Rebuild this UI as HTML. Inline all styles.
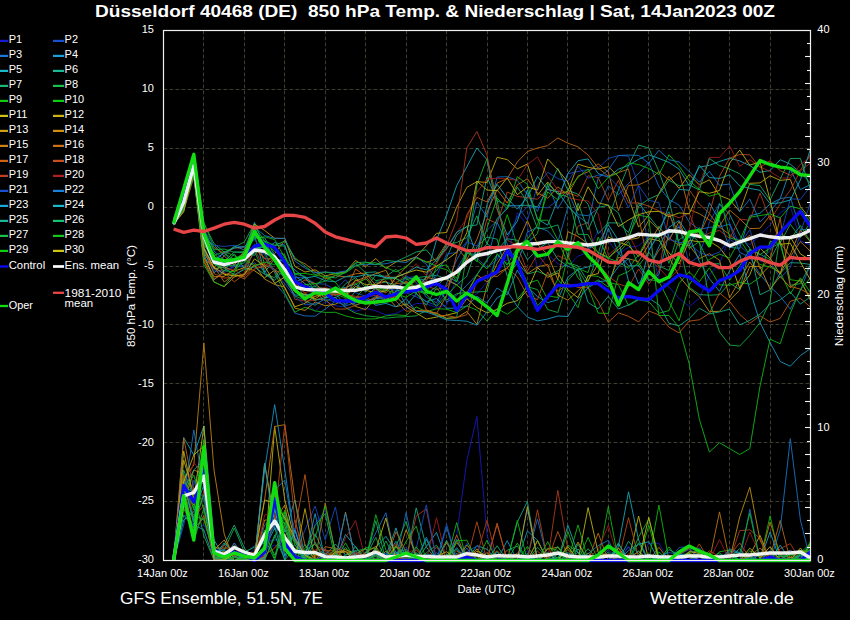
<!DOCTYPE html><html><head><meta charset="utf-8"><style>html,body{margin:0;padding:0;background:#000;width:850px;height:620px;overflow:hidden}svg{display:block}</style></head><body>
<svg width="850" height="620" viewBox="0 0 850 620"><rect width="850" height="620" fill="#000"/>
<g stroke="#3e3d2e" stroke-width="1" stroke-dasharray="3.8,2.2"><line x1="203.5" y1="30.5" x2="203.5" y2="560.5"/><line x1="244.5" y1="30.5" x2="244.5" y2="560.5"/><line x1="284.5" y1="30.5" x2="284.5" y2="560.5"/><line x1="325.5" y1="30.5" x2="325.5" y2="560.5"/><line x1="365.5" y1="30.5" x2="365.5" y2="560.5"/><line x1="406.5" y1="30.5" x2="406.5" y2="560.5"/><line x1="446.5" y1="30.5" x2="446.5" y2="560.5"/><line x1="487.5" y1="30.5" x2="487.5" y2="560.5"/><line x1="527.5" y1="30.5" x2="527.5" y2="560.5"/><line x1="567.5" y1="30.5" x2="567.5" y2="560.5"/><line x1="608.5" y1="30.5" x2="608.5" y2="560.5"/><line x1="648.5" y1="30.5" x2="648.5" y2="560.5"/><line x1="689.5" y1="30.5" x2="689.5" y2="560.5"/><line x1="729.5" y1="30.5" x2="729.5" y2="560.5"/><line x1="770.5" y1="30.5" x2="770.5" y2="560.5"/><line x1="163.5" y1="89.5" x2="810.5" y2="89.5"/><line x1="163.5" y1="148.5" x2="810.5" y2="148.5"/><line x1="163.5" y1="207.5" x2="810.5" y2="207.5"/><line x1="163.5" y1="266.5" x2="810.5" y2="266.5"/><line x1="163.5" y1="324.5" x2="810.5" y2="324.5"/><line x1="163.5" y1="383.5" x2="810.5" y2="383.5"/><line x1="163.5" y1="442.5" x2="810.5" y2="442.5"/><line x1="163.5" y1="501.5" x2="810.5" y2="501.5"/></g>
<defs><clipPath id="c"><rect x="163.5" y="27.5" width="648.0" height="536.0"/></clipPath></defs>
<g clip-path="url(#c)"><polyline points="173.6,218.7 183.7,191.4 193.8,153.1 203.9,248.0 214.0,271.0 224.2,272.6 234.3,267.1 244.4,256.6 254.5,249.8 264.6,254.1 274.7,258.8 284.8,262.4 294.9,288.6 305.0,301.5 315.1,311.2 325.2,301.6 335.4,305.7 345.5,307.0 355.6,311.4 365.7,308.3 375.8,310.7 385.9,315.1 396.0,313.5 406.1,308.5 416.2,303.5 426.3,303.8 436.5,307.4 446.6,305.3 456.7,277.6 466.8,299.7 476.9,294.0 487.0,282.1 497.1,256.2 507.2,261.1 517.3,212.7 527.4,225.4 537.5,268.2 547.7,254.0 557.8,263.8 567.9,266.8 578.0,256.1 588.1,252.5 598.2,230.0 608.3,241.1 618.4,253.6 628.5,247.5 638.6,245.9 648.8,236.1 658.9,279.9 669.0,287.0 679.1,298.4 689.2,306.5 699.3,298.5 709.4,275.0 719.5,263.2 729.6,237.6 739.7,239.6 749.8,244.4 760.0,235.8 770.1,224.7 780.2,213.0 790.3,205.8 800.4,241.0 810.5,245.0" fill="none" stroke="#1717bb" stroke-width="0.9" stroke-linejoin="round" /><polyline points="173.6,220.0 183.7,201.7 193.8,168.9 203.9,256.2 214.0,269.7 224.2,271.1 234.3,266.3 244.4,265.3 254.5,253.5 264.6,244.7 274.7,257.3 284.8,268.2 294.9,277.7 305.0,277.2 315.1,283.6 325.2,284.1 335.4,289.9 345.5,279.7 355.6,292.8 365.7,296.2 375.8,288.3 385.9,300.2 396.0,293.2 406.1,292.8 416.2,296.7 426.3,301.6 436.5,305.3 446.6,291.0 456.7,269.7 466.8,251.0 476.9,258.4 487.0,267.2 497.1,260.2 507.2,238.0 517.3,217.0 527.4,206.9 537.5,207.4 547.7,207.8 557.8,200.0 567.9,173.8 578.0,171.5 588.1,169.6 598.2,168.0 608.3,158.5 618.4,155.5 628.5,156.2 638.6,185.9 648.8,249.7 658.9,233.0 669.0,238.0 679.1,225.3 689.2,263.3 699.3,256.2 709.4,222.3 719.5,203.3 729.6,223.3 739.7,244.8 749.8,229.6 760.0,261.0 770.1,261.6 780.2,278.1 790.3,267.4 800.4,233.0 810.5,202.4" fill="none" stroke="#1748bb" stroke-width="0.9" stroke-linejoin="round" /><polyline points="173.6,221.6 183.7,205.3 193.8,159.7 203.9,237.4 214.0,262.5 224.2,252.0 234.3,266.0 244.4,267.2 254.5,262.8 264.6,271.2 274.7,282.7 284.8,294.7 294.9,313.2 305.0,315.9 315.1,316.2 325.2,309.1 335.4,301.2 345.5,305.9 355.6,302.6 365.7,302.4 375.8,296.3 385.9,299.9 396.0,291.8 406.1,275.7 416.2,282.4 426.3,297.2 436.5,302.8 446.6,283.9 456.7,259.8 466.8,242.7 476.9,202.0 487.0,217.1 497.1,177.0 507.2,176.7 517.3,180.4 527.4,194.5 537.5,211.5 547.7,184.6 557.8,208.7 567.9,191.6 578.0,214.7 588.1,215.7 598.2,208.6 608.3,185.8 618.4,194.9 628.5,183.5 638.6,173.6 648.8,162.3 658.9,186.6 669.0,199.6 679.1,205.1 689.2,222.0 699.3,229.5 709.4,227.3 719.5,227.0 729.6,224.0 739.7,252.4 749.8,257.2 760.0,274.4 770.1,286.6 780.2,296.3 790.3,309.2 800.4,290.4 810.5,264.2" fill="none" stroke="#176cc2" stroke-width="0.9" stroke-linejoin="round" /><polyline points="173.6,221.8 183.7,200.1 193.8,167.9 203.9,238.2 214.0,244.9 224.2,256.2 234.3,246.0 244.4,250.1 254.5,222.4 264.6,248.7 274.7,242.6 284.8,245.2 294.9,275.6 305.0,283.7 315.1,290.0 325.2,297.6 335.4,297.7 345.5,291.2 355.6,305.3 365.7,300.8 375.8,298.9 385.9,297.2 396.0,286.0 406.1,305.8 416.2,293.9 426.3,301.6 436.5,298.6 446.6,308.2 456.7,308.3 466.8,306.2 476.9,296.3 487.0,303.0 497.1,288.0 507.2,294.9 517.3,270.1 527.4,287.1 537.5,296.6 547.7,302.6 557.8,299.8 567.9,277.2 578.0,269.4 588.1,266.9 598.2,262.3 608.3,228.1 618.4,252.7 628.5,265.9 638.6,265.6 648.8,280.9 658.9,274.6 669.0,232.7 679.1,227.2 689.2,237.1 699.3,236.4 709.4,202.8 719.5,220.6 729.6,247.4 739.7,248.3 749.8,215.8 760.0,213.3 770.1,204.0 780.2,198.8 790.3,169.4 800.4,189.6 810.5,184.6" fill="none" stroke="#1790c2" stroke-width="0.9" stroke-linejoin="round" /><polyline points="173.6,222.5 183.7,202.7 193.8,175.5 203.9,254.0 214.0,279.9 224.2,270.8 234.3,258.6 244.4,254.4 254.5,235.1 264.6,272.5 274.7,258.6 284.8,272.7 294.9,282.6 305.0,277.3 315.1,290.9 325.2,292.0 335.4,289.6 345.5,287.4 355.6,283.8 365.7,292.0 375.8,282.1 385.9,282.2 396.0,285.2 406.1,288.7 416.2,293.4 426.3,276.2 436.5,240.0 446.6,215.0 456.7,185.6 466.8,166.8 476.9,148.0 487.0,159.7 497.1,209.0 507.2,235.0 517.3,221.3 527.4,190.0 537.5,218.9 547.7,225.2 557.8,199.4 567.9,173.4 578.0,160.7 588.1,158.9 598.2,173.6 608.3,177.2 618.4,169.2 628.5,165.3 638.6,159.3 648.8,154.8 658.9,158.4 669.0,162.4 679.1,169.2 689.2,185.7 699.3,167.1 709.4,165.4 719.5,161.4 729.6,158.3 739.7,160.9 749.8,165.6 760.0,172.3 770.1,170.5 780.2,159.7 790.3,164.2 800.4,172.5 810.5,183.2" fill="none" stroke="#17a5b4" stroke-width="0.9" stroke-linejoin="round" /><polyline points="173.6,224.4 183.7,210.5 193.8,168.9 203.9,250.9 214.0,273.0 224.2,261.6 234.3,251.8 244.4,253.0 254.5,237.1 264.6,237.8 274.7,255.0 284.8,268.4 294.9,277.2 305.0,301.0 315.1,305.3 325.2,298.3 335.4,293.8 345.5,304.4 355.6,290.8 365.7,272.5 375.8,271.9 385.9,278.3 396.0,278.6 406.1,283.5 416.2,279.4 426.3,279.3 436.5,270.8 446.6,257.7 456.7,235.3 466.8,226.1 476.9,225.0 487.0,176.8 497.1,200.7 507.2,205.5 517.3,205.7 527.4,205.2 537.5,206.9 547.7,189.0 557.8,168.4 567.9,190.4 578.0,194.2 588.1,204.2 598.2,233.7 608.3,222.8 618.4,223.0 628.5,232.5 638.6,202.8 648.8,216.1 658.9,228.9 669.0,211.7 679.1,244.0 689.2,245.5 699.3,227.5 709.4,240.9 719.5,203.8 729.6,214.3 739.7,235.1 749.8,248.3 760.0,294.8 770.1,289.8 780.2,273.4 790.3,262.7 800.4,263.0 810.5,264.5" fill="none" stroke="#17a585" stroke-width="0.9" stroke-linejoin="round" /><polyline points="173.6,224.1 183.7,205.9 193.8,167.9 203.9,241.7 214.0,252.9 224.2,265.3 234.3,253.8 244.4,268.4 254.5,251.5 264.6,273.8 274.7,277.7 284.8,262.9 294.9,287.6 305.0,287.7 315.1,286.7 325.2,288.5 335.4,295.5 345.5,283.8 355.6,277.6 365.7,287.6 375.8,275.1 385.9,276.4 396.0,269.3 406.1,279.4 416.2,277.8 426.3,276.4 436.5,275.3 446.6,278.9 456.7,284.8 466.8,276.3 476.9,246.8 487.0,237.1 497.1,239.1 507.2,276.2 517.3,262.9 527.4,274.1 537.5,271.3 547.7,275.5 557.8,271.1 567.9,262.8 578.0,265.9 588.1,281.5 598.2,253.9 608.3,219.3 618.4,190.0 628.5,165.6 638.6,145.1 648.8,148.0 658.9,171.5 669.0,199.7 679.1,243.8 689.2,287.2 699.3,294.6 709.4,295.2 719.5,294.7 729.6,283.2 739.7,289.4 749.8,249.2 760.0,254.3 770.1,259.6 780.2,240.6 790.3,285.3 800.4,283.6 810.5,264.5" fill="none" stroke="#17a564" stroke-width="0.9" stroke-linejoin="round" /><polyline points="173.6,222.3 183.7,199.5 193.8,153.3 203.9,223.5 214.0,243.5 224.2,252.1 234.3,247.2 244.4,241.9 254.5,223.6 264.6,265.2 274.7,269.3 284.8,277.2 294.9,296.0 305.0,300.1 315.1,291.5 325.2,301.1 335.4,297.2 345.5,307.8 355.6,313.1 365.7,315.7 375.8,316.8 385.9,318.2 396.0,317.1 406.1,316.7 416.2,315.8 426.3,310.7 436.5,314.5 446.6,318.7 456.7,317.2 466.8,253.1 476.9,185.0 487.0,158.5 497.1,200.0 507.2,254.0 517.3,299.2 527.4,286.7 537.5,289.6 547.7,309.5 557.8,312.5 567.9,280.5 578.0,269.4 588.1,286.5 598.2,279.9 608.3,287.1 618.4,253.4 628.5,241.5 638.6,265.8 648.8,252.1 658.9,266.0 669.0,270.5 679.1,239.9 689.2,232.2 699.3,242.7 709.4,263.8 719.5,263.7 729.6,280.3 739.7,265.8 749.8,249.6 760.0,254.5 770.1,248.2 780.2,243.1 790.3,224.2 800.4,237.9 810.5,222.2" fill="none" stroke="#17ac40" stroke-width="0.9" stroke-linejoin="round" /><polyline points="173.6,220.4 183.7,203.6 193.8,159.2 203.9,245.6 214.0,255.6 224.2,251.5 234.3,255.7 244.4,261.2 254.5,244.2 264.6,252.5 274.7,272.7 284.8,293.1 294.9,312.2 305.0,307.2 315.1,310.9 325.2,312.4 335.4,312.3 345.5,315.9 355.6,318.3 365.7,319.0 375.8,318.8 385.9,315.9 396.0,314.8 406.1,315.6 416.2,306.9 426.3,311.8 436.5,308.7 446.6,309.1 456.7,312.6 466.8,305.9 476.9,310.1 487.0,321.1 497.1,308.5 507.2,314.2 517.3,307.3 527.4,283.6 537.5,280.1 547.7,299.3 557.8,279.2 567.9,292.5 578.0,307.6 588.1,275.3 598.2,276.5 608.3,282.4 618.4,284.7 628.5,305.5 638.6,299.9 648.8,301.6 658.9,313.2 669.0,310.6 679.1,283.3 689.2,271.8 699.3,281.8 709.4,267.8 719.5,284.9 729.6,285.2 739.7,282.3 749.8,284.2 760.0,277.3 770.1,241.2 780.2,244.0 790.3,279.7 800.4,281.2 810.5,298.6" fill="none" stroke="#12b412" stroke-width="0.9" stroke-linejoin="round" /><polyline points="173.6,218.0 183.7,191.2 193.8,152.8 203.9,222.6 214.0,247.5 224.2,253.6 234.3,259.4 244.4,252.9 254.5,238.4 264.6,236.7 274.7,239.6 284.8,257.9 294.9,284.6 305.0,289.5 315.1,293.6 325.2,288.4 335.4,293.6 345.5,298.1 355.6,298.4 365.7,286.3 375.8,289.0 385.9,290.8 396.0,282.7 406.1,277.2 416.2,289.6 426.3,293.2 436.5,266.8 446.6,269.7 456.7,278.1 466.8,250.1 476.9,260.6 487.0,268.9 497.1,254.6 507.2,263.7 517.3,261.9 527.4,282.7 537.5,305.6 547.7,295.8 557.8,297.5 567.9,255.5 578.0,277.9 588.1,287.6 598.2,313.1 608.3,313.4 618.4,275.8 628.5,271.5 638.6,262.5 648.8,279.6 658.9,281.1 669.0,301.5 679.1,320.8 689.2,285.2 699.3,268.4 709.4,259.4 719.5,254.1 729.6,258.0 739.7,239.8 749.8,254.8 760.0,264.5 770.1,267.1 780.2,272.2 790.3,293.8 800.4,277.8 810.5,292.6" fill="none" stroke="#0eb70e" stroke-width="0.9" stroke-linejoin="round" /><polyline points="173.6,220.1 183.7,205.5 193.8,169.1 203.9,247.2 214.0,268.7 224.2,267.0 234.3,271.2 244.4,267.6 254.5,270.7 264.6,277.9 274.7,269.9 284.8,288.1 294.9,306.8 305.0,303.2 315.1,296.4 325.2,293.3 335.4,291.1 345.5,296.4 355.6,279.7 365.7,284.8 375.8,284.4 385.9,280.9 396.0,296.3 406.1,306.7 416.2,313.0 426.3,319.0 436.5,317.1 446.6,315.1 456.7,312.7 466.8,298.7 476.9,307.6 487.0,312.8 497.1,309.5 507.2,303.3 517.3,300.7 527.4,290.4 537.5,267.6 547.7,277.3 557.8,272.9 567.9,289.7 578.0,297.7 588.1,276.0 598.2,273.6 608.3,236.8 618.4,242.3 628.5,245.5 638.6,256.5 648.8,238.7 658.9,240.6 669.0,252.8 679.1,264.0 689.2,240.3 699.3,241.9 709.4,241.1 719.5,247.6 729.6,260.7 739.7,288.2 749.8,274.8 760.0,248.1 770.1,258.0 780.2,274.2 790.3,237.0 800.4,253.9 810.5,260.1" fill="none" stroke="#bbb012" stroke-width="0.9" stroke-linejoin="round" /><polyline points="173.6,225.0 183.7,207.8 193.8,173.9 203.9,257.4 214.0,276.8 224.2,276.3 234.3,269.6 244.4,252.9 254.5,224.1 264.6,230.4 274.7,238.3 284.8,238.4 294.9,266.5 305.0,272.0 315.1,269.9 325.2,275.8 335.4,273.7 345.5,271.8 355.6,260.5 365.7,266.7 375.8,258.5 385.9,268.6 396.0,261.9 406.1,260.4 416.2,256.8 426.3,245.9 436.5,233.3 446.6,232.5 456.7,207.1 466.8,187.4 476.9,181.7 487.0,182.5 497.1,157.3 507.2,159.6 517.3,168.9 527.4,164.0 537.5,195.4 547.7,182.0 557.8,194.1 567.9,191.4 578.0,164.2 588.1,167.3 598.2,169.1 608.3,166.7 618.4,176.5 628.5,197.3 638.6,227.1 648.8,215.1 658.9,193.5 669.0,176.3 679.1,188.4 689.2,174.5 699.3,184.8 709.4,179.8 719.5,195.4 729.6,199.5 739.7,211.5 749.8,183.3 760.0,182.9 770.1,175.8 780.2,180.4 790.3,179.4 800.4,206.6 810.5,219.1" fill="none" stroke="#bba212" stroke-width="0.9" stroke-linejoin="round" /><polyline points="173.6,220.9 183.7,206.3 193.8,174.0 203.9,261.5 214.0,282.0 224.2,286.8 234.3,276.9 244.4,273.7 254.5,264.7 264.6,279.1 274.7,284.5 284.8,287.1 294.9,308.2 305.0,310.4 315.1,302.0 325.2,305.7 335.4,304.2 345.5,299.3 355.6,306.4 365.7,309.7 375.8,297.6 385.9,295.7 396.0,306.7 406.1,304.0 416.2,311.0 426.3,311.2 436.5,313.1 446.6,318.2 456.7,317.9 466.8,311.5 476.9,324.3 487.0,285.4 497.1,263.7 507.2,246.8 517.3,243.4 527.4,220.7 537.5,244.4 547.7,254.4 557.8,279.7 567.9,231.6 578.0,236.5 588.1,243.7 598.2,252.4 608.3,257.4 618.4,249.6 628.5,239.7 638.6,238.0 648.8,220.1 658.9,230.0 669.0,257.4 679.1,276.1 689.2,288.3 699.3,296.6 709.4,311.7 719.5,311.3 729.6,300.2 739.7,290.2 749.8,266.5 760.0,266.4 770.1,289.3 780.2,276.3 790.3,287.7 800.4,279.6 810.5,300.4" fill="none" stroke="#bb9012" stroke-width="0.9" stroke-linejoin="round" /><polyline points="173.6,223.5 183.7,203.4 193.8,167.3 203.9,253.3 214.0,267.7 224.2,255.9 234.3,265.1 244.4,250.6 254.5,233.1 264.6,248.5 274.7,259.3 284.8,275.4 294.9,289.8 305.0,299.5 315.1,290.5 325.2,297.7 335.4,289.4 345.5,288.7 355.6,280.8 365.7,277.3 375.8,273.6 385.9,270.3 396.0,289.3 406.1,280.9 416.2,288.5 426.3,277.5 436.5,279.2 446.6,279.8 456.7,285.0 466.8,293.3 476.9,274.9 487.0,281.8 497.1,273.4 507.2,268.0 517.3,256.2 527.4,273.6 537.5,266.9 547.7,264.4 557.8,295.1 567.9,300.2 578.0,290.8 588.1,280.6 598.2,264.0 608.3,284.8 618.4,257.4 628.5,258.8 638.6,261.6 648.8,244.6 658.9,226.3 669.0,240.3 679.1,221.6 689.2,245.1 699.3,258.7 709.4,253.7 719.5,260.1 729.6,297.7 739.7,279.9 749.8,262.0 760.0,275.9 770.1,265.3 780.2,273.7 790.3,254.4 800.4,230.0 810.5,242.0" fill="none" stroke="#bb8112" stroke-width="0.9" stroke-linejoin="round" /><polyline points="173.6,223.1 183.7,210.7 193.8,177.1 203.9,259.5 214.0,266.6 224.2,281.9 234.3,274.9 244.4,276.8 254.5,265.1 264.6,263.9 274.7,253.6 284.8,240.2 294.9,259.1 305.0,263.8 315.1,271.6 325.2,278.8 335.4,275.6 345.5,276.8 355.6,273.8 365.7,273.1 375.8,285.4 385.9,277.0 396.0,277.5 406.1,267.1 416.2,256.8 426.3,262.3 436.5,258.8 446.6,243.0 456.7,246.9 466.8,259.8 476.9,239.3 487.0,212.1 497.1,189.7 507.2,203.0 517.3,184.8 527.4,178.8 537.5,192.8 547.7,198.3 557.8,186.8 567.9,194.9 578.0,176.1 588.1,171.8 598.2,163.8 608.3,172.1 618.4,210.6 628.5,185.4 638.6,184.9 648.8,180.2 658.9,171.6 669.0,180.0 679.1,172.3 689.2,209.7 699.3,213.6 709.4,220.0 719.5,226.1 729.6,210.0 739.7,218.8 749.8,228.6 760.0,228.2 770.1,215.4 780.2,242.5 790.3,256.7 800.4,241.6 810.5,251.4" fill="none" stroke="#bb7312" stroke-width="0.9" stroke-linejoin="round" /><polyline points="173.6,220.3 183.7,197.5 193.8,161.7 203.9,237.1 214.0,257.6 224.2,274.2 234.3,274.0 244.4,279.0 254.5,268.9 264.6,266.3 274.7,258.2 284.8,280.3 294.9,286.7 305.0,279.8 315.1,283.6 325.2,292.3 335.4,295.3 345.5,290.5 355.6,269.0 365.7,276.2 375.8,288.7 385.9,292.8 396.0,283.6 406.1,282.6 416.2,286.7 426.3,309.9 436.5,313.6 446.6,295.5 456.7,254.3 466.8,215.0 476.9,197.4 487.0,202.0 497.1,183.2 507.2,178.5 517.3,162.0 527.4,151.5 537.5,148.0 547.7,145.6 557.8,138.0 567.9,143.2 578.0,146.8 588.1,155.0 598.2,168.0 608.3,176.2 618.4,172.6 628.5,169.0 638.6,215.8 648.8,267.7 658.9,250.3 669.0,237.9 679.1,245.6 689.2,234.9 699.3,234.6 709.4,213.6 719.5,227.2 729.6,234.4 739.7,242.8 749.8,235.2 760.0,268.9 770.1,259.5 780.2,218.1 790.3,286.4 800.4,289.1 810.5,294.5" fill="none" stroke="#bb6412" stroke-width="0.9" stroke-linejoin="round" /><polyline points="173.6,223.1 183.7,206.0 193.8,171.0 203.9,260.1 214.0,279.3 224.2,272.9 234.3,281.9 244.4,274.2 254.5,248.9 264.6,258.6 274.7,259.1 284.8,272.6 294.9,285.3 305.0,293.1 315.1,299.5 325.2,299.4 335.4,309.0 345.5,309.1 355.6,305.3 365.7,301.4 375.8,297.6 385.9,286.8 396.0,301.1 406.1,311.2 416.2,310.7 426.3,310.0 436.5,315.6 446.6,315.6 456.7,317.4 466.8,314.8 476.9,279.8 487.0,275.1 497.1,276.7 507.2,268.1 517.3,276.8 527.4,295.9 537.5,299.6 547.7,272.0 557.8,291.3 567.9,283.8 578.0,287.4 588.1,287.2 598.2,301.4 608.3,322.3 618.4,312.8 628.5,316.3 638.6,321.9 648.8,311.0 658.9,314.9 669.0,327.2 679.1,332.9 689.2,321.1 699.3,319.8 709.4,313.5 719.5,292.9 729.6,301.4 739.7,314.4 749.8,323.3 760.0,315.8 770.1,322.0 780.2,318.4 790.3,301.3 800.4,298.3 810.5,307.2" fill="none" stroke="#bb5612" stroke-width="0.9" stroke-linejoin="round" /><polyline points="173.6,223.1 183.7,207.3 193.8,175.5 203.9,248.1 214.0,273.7 224.2,278.1 234.3,277.1 244.4,267.4 254.5,246.7 264.6,257.9 274.7,272.3 284.8,269.8 294.9,291.1 305.0,296.6 315.1,296.4 325.2,290.5 335.4,294.6 345.5,293.9 355.6,297.9 365.7,296.5 375.8,304.1 385.9,298.3 396.0,296.1 406.1,288.3 416.2,280.3 426.3,285.9 436.5,289.7 446.6,286.5 456.7,272.3 466.8,259.9 476.9,256.0 487.0,218.7 497.1,223.6 507.2,192.0 517.3,196.4 527.4,197.7 537.5,199.3 547.7,189.1 557.8,191.4 567.9,192.7 578.0,196.4 588.1,175.8 598.2,177.5 608.3,200.1 618.4,180.4 628.5,203.0 638.6,202.9 648.8,206.1 658.9,210.9 669.0,214.8 679.1,233.2 689.2,189.9 699.3,204.0 709.4,213.5 719.5,176.3 729.6,158.1 739.7,154.5 749.8,154.8 760.0,167.5 770.1,160.8 780.2,170.7 790.3,175.3 800.4,170.2 810.5,154.3" fill="none" stroke="#b4481c" stroke-width="0.9" stroke-linejoin="round" /><polyline points="173.6,219.4 183.7,191.3 193.8,155.5 203.9,236.7 214.0,247.5 224.2,253.5 234.3,248.0 244.4,247.6 254.5,249.0 264.6,268.8 274.7,259.4 284.8,271.0 294.9,299.3 305.0,301.0 315.1,300.5 325.2,295.6 335.4,294.5 345.5,294.3 355.6,296.4 365.7,297.2 375.8,295.2 385.9,298.1 396.0,296.8 406.1,287.6 416.2,285.5 426.3,280.7 436.5,263.5 446.6,245.8 456.7,220.0 466.8,148.0 476.9,131.5 487.0,155.0 497.1,209.0 507.2,240.0 517.3,245.5 527.4,271.2 537.5,254.3 547.7,266.9 557.8,255.7 567.9,260.2 578.0,226.2 588.1,222.5 598.2,264.2 608.3,276.0 618.4,283.8 628.5,287.2 638.6,269.0 648.8,284.0 658.9,271.1 669.0,213.9 679.1,217.8 689.2,213.1 699.3,238.2 709.4,233.0 719.5,230.4 729.6,238.4 739.7,219.1 749.8,220.3 760.0,193.2 770.1,220.1 780.2,204.3 790.3,190.1 800.4,170.9 810.5,162.9" fill="none" stroke="#ac391c" stroke-width="0.9" stroke-linejoin="round" /><polyline points="173.6,220.4 183.7,195.9 193.8,162.9 203.9,236.9 214.0,259.3 224.2,268.5 234.3,270.0 244.4,276.2 254.5,269.1 264.6,263.7 274.7,269.8 284.8,264.1 294.9,283.4 305.0,292.7 315.1,290.0 325.2,287.2 335.4,291.5 345.5,292.4 355.6,282.6 365.7,278.2 375.8,292.0 385.9,275.3 396.0,282.7 406.1,274.8 416.2,263.7 426.3,275.6 436.5,262.1 446.6,249.3 456.7,232.8 466.8,218.4 476.9,192.1 487.0,179.1 497.1,178.2 507.2,179.0 517.3,180.3 527.4,164.6 537.5,156.9 547.7,176.6 557.8,189.7 567.9,197.6 578.0,199.8 588.1,201.0 598.2,213.9 608.3,255.2 618.4,246.1 628.5,233.8 638.6,254.0 648.8,258.6 658.9,267.7 669.0,278.9 679.1,269.3 689.2,230.9 699.3,185.0 709.4,157.4 719.5,157.4 729.6,146.0 739.7,166.3 749.8,159.7 760.0,166.8 770.1,171.5 780.2,178.0 790.3,178.0 800.4,164.4 810.5,157.4" fill="none" stroke="#9e1c1c" stroke-width="0.9" stroke-linejoin="round" /><polyline points="173.6,223.4 183.7,199.2 193.8,163.4 203.9,229.6 214.0,245.4 224.2,246.4 234.3,245.3 244.4,247.4 254.5,239.3 264.6,255.4 274.7,272.3 284.8,283.8 294.9,296.8 305.0,304.9 315.1,303.7 325.2,299.3 335.4,301.9 345.5,304.7 355.6,297.8 365.7,300.1 375.8,302.5 385.9,288.1 396.0,290.5 406.1,277.9 416.2,276.5 426.3,283.2 436.5,276.2 446.6,254.2 456.7,252.4 466.8,241.9 476.9,245.9 487.0,230.2 497.1,220.9 507.2,206.7 517.3,205.3 527.4,220.3 537.5,185.2 547.7,172.4 557.8,178.6 567.9,181.3 578.0,166.1 588.1,178.2 598.2,175.0 608.3,176.3 618.4,187.0 628.5,207.9 638.6,185.4 648.8,200.3 658.9,202.7 669.0,239.4 679.1,242.3 689.2,243.2 699.3,252.3 709.4,255.9 719.5,252.1 729.6,239.4 739.7,245.6 749.8,255.0 760.0,259.6 770.1,250.7 780.2,236.6 790.3,198.8 800.4,199.3 810.5,186.4" fill="none" stroke="#1748bb" stroke-width="0.9" stroke-linejoin="round" /><polyline points="173.6,223.0 183.7,203.9 193.8,160.3 203.9,230.8 214.0,251.1 224.2,259.6 234.3,262.7 244.4,257.5 254.5,227.0 264.6,235.6 274.7,238.3 284.8,238.4 294.9,260.9 305.0,268.1 315.1,272.6 325.2,271.9 335.4,272.8 345.5,270.9 355.6,265.3 365.7,264.3 375.8,264.4 385.9,263.7 396.0,261.4 406.1,262.5 416.2,256.7 426.3,264.3 436.5,280.8 446.6,302.2 456.7,295.2 466.8,285.3 476.9,274.6 487.0,261.0 497.1,222.3 507.2,243.7 517.3,265.0 527.4,232.0 537.5,227.4 547.7,230.9 557.8,242.5 567.9,206.8 578.0,216.3 588.1,223.6 598.2,178.1 608.3,170.0 618.4,155.5 628.5,155.0 638.6,155.5 648.8,163.2 658.9,150.3 669.0,159.7 679.1,162.0 689.2,171.5 699.3,182.1 709.4,171.4 719.5,185.3 729.6,184.0 739.7,211.8 749.8,199.0 760.0,221.9 770.1,211.6 780.2,198.7 790.3,197.1 800.4,229.8 810.5,229.0" fill="none" stroke="#1773c2" stroke-width="0.9" stroke-linejoin="round" /><polyline points="173.6,224.6 183.7,208.7 193.8,168.6 203.9,249.9 214.0,263.3 224.2,263.8 234.3,259.8 244.4,260.1 254.5,249.6 264.6,245.6 274.7,255.3 284.8,279.9 294.9,295.1 305.0,295.2 315.1,292.8 325.2,292.4 335.4,299.4 345.5,301.5 355.6,300.8 365.7,298.6 375.8,305.3 385.9,303.4 396.0,306.9 406.1,298.6 416.2,311.4 426.3,312.1 436.5,315.6 446.6,319.9 456.7,320.5 466.8,321.2 476.9,325.1 487.0,311.8 497.1,298.0 507.2,291.5 517.3,306.4 527.4,317.1 537.5,320.9 547.7,319.0 557.8,316.0 567.9,316.5 578.0,299.4 588.1,287.7 598.2,281.7 608.3,280.6 618.4,266.7 628.5,258.5 638.6,284.0 648.8,268.9 658.9,246.8 669.0,227.3 679.1,220.5 689.2,236.1 699.3,261.4 709.4,278.7 719.5,291.3 729.6,270.8 739.7,254.3 749.8,289.6 760.0,322.6 770.1,342.6 780.2,361.5 790.3,366.2 800.4,355.6 810.5,348.5" fill="none" stroke="#1797c2" stroke-width="0.9" stroke-linejoin="round" /><polyline points="173.6,219.6 183.7,204.6 193.8,159.4 203.9,236.3 214.0,260.6 224.2,252.6 234.3,248.0 244.4,246.5 254.5,235.8 264.6,241.4 274.7,258.7 284.8,261.4 294.9,269.9 305.0,278.1 315.1,276.3 325.2,280.7 335.4,281.8 345.5,276.7 355.6,276.9 365.7,274.7 375.8,275.4 385.9,277.8 396.0,277.2 406.1,273.1 416.2,267.1 426.3,269.9 436.5,259.7 446.6,248.4 456.7,232.2 466.8,226.7 476.9,256.5 487.0,204.6 497.1,184.4 507.2,198.0 517.3,209.1 527.4,197.5 537.5,176.4 547.7,189.6 557.8,191.8 567.9,206.0 578.0,216.8 588.1,248.3 598.2,244.4 608.3,224.6 618.4,240.4 628.5,280.9 638.6,290.6 648.8,250.5 658.9,234.2 669.0,205.1 679.1,189.4 689.2,190.2 699.3,165.2 709.4,177.5 719.5,178.5 729.6,174.8 739.7,186.0 749.8,188.4 760.0,190.3 770.1,203.7 780.2,202.8 790.3,200.0 800.4,180.0 810.5,149.0" fill="none" stroke="#17a5b4" stroke-width="0.9" stroke-linejoin="round" /><polyline points="173.6,219.3 183.7,206.4 193.8,163.7 203.9,236.9 214.0,264.3 224.2,268.1 234.3,274.7 244.4,269.5 254.5,266.9 264.6,274.3 274.7,280.3 284.8,267.5 294.9,291.8 305.0,294.9 315.1,300.4 325.2,297.6 335.4,289.1 345.5,294.9 355.6,299.5 365.7,296.8 375.8,287.7 385.9,298.2 396.0,291.2 406.1,288.5 416.2,285.1 426.3,294.4 436.5,286.5 446.6,276.3 456.7,281.6 466.8,253.5 476.9,254.5 487.0,243.9 497.1,250.1 507.2,238.8 517.3,240.2 527.4,259.8 537.5,249.2 547.7,242.6 557.8,259.3 567.9,266.4 578.0,270.0 588.1,302.5 598.2,308.9 608.3,296.3 618.4,309.0 628.5,304.9 638.6,298.9 648.8,298.2 658.9,304.7 669.0,323.3 679.1,325.8 689.2,318.6 699.3,308.2 709.4,313.9 719.5,311.9 729.6,309.1 739.7,324.9 749.8,320.3 760.0,314.2 770.1,304.2 780.2,299.9 790.3,292.0 800.4,304.1 810.5,296.9" fill="none" stroke="#17a585" stroke-width="0.9" stroke-linejoin="round" /><polyline points="173.6,222.9 183.7,204.6 193.8,176.0 203.9,242.7 214.0,263.8 224.2,266.0 234.3,265.2 244.4,262.9 254.5,247.6 264.6,247.3 274.7,245.2 284.8,246.2 294.9,274.1 305.0,276.4 315.1,286.4 325.2,276.4 335.4,277.9 345.5,272.1 355.6,262.8 365.7,262.0 375.8,264.8 385.9,260.4 396.0,261.5 406.1,257.0 416.2,252.0 426.3,249.8 436.5,261.9 446.6,244.4 456.7,242.5 466.8,237.6 476.9,215.8 487.0,244.0 497.1,218.4 507.2,208.8 517.3,187.0 527.4,202.0 537.5,228.6 547.7,228.0 557.8,224.9 567.9,257.0 578.0,203.2 588.1,229.9 598.2,207.5 608.3,205.2 618.4,212.8 628.5,239.6 638.6,206.2 648.8,199.1 658.9,194.5 669.0,180.3 679.1,185.7 689.2,184.8 699.3,190.0 709.4,158.5 719.5,165.6 729.6,169.0 739.7,173.8 749.8,184.4 760.0,185.6 770.1,200.0 780.2,179.1 790.3,158.5 800.4,158.4 810.5,189.5" fill="none" stroke="#17ac64" stroke-width="0.9" stroke-linejoin="round" /><polyline points="173.6,220.1 183.7,193.6 193.8,154.4 203.9,230.0 214.0,249.8 224.2,249.0 234.3,252.3 244.4,251.5 254.5,255.5 264.6,241.1 274.7,245.3 284.8,241.1 294.9,257.8 305.0,266.0 315.1,274.5 325.2,272.2 335.4,273.7 345.5,272.5 355.6,263.3 365.7,272.9 375.8,280.6 385.9,278.9 396.0,278.5 406.1,284.4 416.2,293.1 426.3,305.3 436.5,287.8 446.6,300.1 456.7,293.7 466.8,292.3 476.9,292.0 487.0,291.3 497.1,253.6 507.2,265.2 517.3,247.5 527.4,242.9 537.5,233.5 547.7,183.2 557.8,194.2 567.9,196.7 578.0,234.2 588.1,234.7 598.2,253.2 608.3,258.3 618.4,261.8 628.5,268.3 638.6,254.8 648.8,236.2 658.9,237.8 669.0,263.4 679.1,229.7 689.2,248.4 699.3,241.7 709.4,301.4 719.5,332.0 729.6,345.0 739.7,346.1 749.8,335.5 760.0,322.6 770.1,301.4 780.2,234.1 790.3,239.0 800.4,225.5 810.5,241.8" fill="none" stroke="#17ac40" stroke-width="0.9" stroke-linejoin="round" /><polyline points="173.6,223.3 183.7,209.7 193.8,174.0 203.9,264.7 214.0,282.1 224.2,286.3 234.3,272.6 244.4,250.4 254.5,226.0 264.6,241.0 274.7,251.5 284.8,254.7 294.9,288.7 305.0,284.7 315.1,283.7 325.2,281.2 335.4,275.1 345.5,272.8 355.6,266.0 365.7,262.7 375.8,262.8 385.9,267.5 396.0,271.8 406.1,267.0 416.2,258.0 426.3,261.8 436.5,266.1 446.6,265.0 456.7,281.9 466.8,251.4 476.9,261.8 487.0,227.9 497.1,198.0 507.2,208.9 517.3,176.6 527.4,184.4 537.5,220.4 547.7,220.2 557.8,240.1 567.9,263.4 578.0,268.4 588.1,272.6 598.2,237.1 608.3,259.2 618.4,246.4 628.5,236.4 638.6,215.3 648.8,216.9 658.9,315.5 669.0,315.5 679.1,327.3 689.2,363.8 699.3,419.2 709.4,452.1 719.5,442.7 729.6,448.6 739.7,454.5 749.8,448.6 760.0,386.2 770.1,339.1 780.2,343.8 790.3,313.2 800.4,289.6 810.5,277.8" fill="none" stroke="#12b41c" stroke-width="0.9" stroke-linejoin="round" /><polyline points="173.6,225.4 183.7,206.7 193.8,160.2 203.9,242.1 214.0,263.4 224.2,270.7 234.3,271.8 244.4,259.4 254.5,265.9 264.6,262.1 274.7,264.7 284.8,256.5 294.9,273.6 305.0,273.4 315.1,275.2 325.2,276.6 335.4,282.3 345.5,294.5 355.6,284.3 365.7,278.8 375.8,287.5 385.9,289.6 396.0,293.8 406.1,297.3 416.2,290.7 426.3,294.1 436.5,306.4 446.6,295.6 456.7,284.7 466.8,294.4 476.9,274.7 487.0,259.5 497.1,248.1 507.2,214.6 517.3,245.7 527.4,239.2 537.5,224.9 547.7,191.9 557.8,199.9 567.9,189.9 578.0,177.4 588.1,168.9 598.2,188.9 608.3,177.3 618.4,172.7 628.5,162.8 638.6,164.6 648.8,168.5 658.9,174.5 669.0,154.8 679.1,166.0 689.2,180.6 699.3,189.4 709.4,196.2 719.5,193.3 729.6,237.9 739.7,240.6 749.8,217.3 760.0,215.5 770.1,214.0 780.2,217.9 790.3,206.2 800.4,208.8 810.5,222.3" fill="none" stroke="#0eb70e" stroke-width="0.9" stroke-linejoin="round" /><polyline points="173.6,224.4 183.7,211.9 193.8,168.6 203.9,248.8 214.0,267.2 224.2,274.3 234.3,275.9 244.4,274.9 254.5,258.9 264.6,266.0 274.7,283.4 284.8,277.0 294.9,291.5 305.0,294.4 315.1,298.9 325.2,292.0 335.4,292.0 345.5,296.0 355.6,286.5 365.7,290.3 375.8,292.8 385.9,291.0 396.0,277.4 406.1,273.1 416.2,270.0 426.3,272.2 436.5,266.2 446.6,259.8 456.7,252.2 466.8,232.8 476.9,181.0 487.0,190.1 497.1,190.6 507.2,177.8 517.3,194.7 527.4,186.9 537.5,190.1 547.7,159.0 557.8,169.7 567.9,182.0 578.0,210.7 588.1,186.8 598.2,202.9 608.3,205.1 618.4,226.6 628.5,219.9 638.6,214.6 648.8,211.8 658.9,211.4 669.0,216.7 679.1,212.9 689.2,213.8 699.3,191.7 709.4,193.3 719.5,190.5 729.6,163.1 739.7,150.1 749.8,165.2 760.0,161.9 770.1,200.0 780.2,244.4 790.3,243.2 800.4,262.1 810.5,280.1" fill="none" stroke="#bbb012" stroke-width="0.9" stroke-linejoin="round" /><polyline points="173.6,560.5 183.7,500.0 193.8,530.0 203.9,525.0 214.0,545.0 224.2,558.0 234.3,560.5 244.4,557.8 254.5,549.1 264.6,550.0 274.7,545.0 284.8,550.0 294.9,535.0 305.0,560.5 315.1,523.5 325.2,510.7 335.4,550.7 345.5,560.5 355.6,560.5 365.7,552.2 375.8,560.5 385.9,552.7 396.0,552.4 406.1,547.3 416.2,560.5 426.3,560.5 436.5,560.5 446.6,560.5 456.7,535.6 466.8,461.0 476.9,416.5 487.0,535.6 497.1,560.5 507.2,560.5 517.3,560.5 527.4,550.8 537.5,560.5 547.7,560.5 557.8,560.5 567.9,560.5 578.0,560.5 588.1,560.5 598.2,560.5 608.3,560.5 618.4,553.9 628.5,546.8 638.6,560.5 648.8,543.3 658.9,543.3 669.0,560.5 679.1,553.7 689.2,560.5 699.3,560.5 709.4,560.5 719.5,560.5 729.6,552.0 739.7,560.5 749.8,560.5 760.0,553.9 770.1,560.5 780.2,560.5 790.3,560.5 800.4,560.5 810.5,555.5" fill="none" stroke="#1717bb" stroke-width="0.9" stroke-linejoin="round" /><polyline points="173.6,560.5 183.7,495.0 193.8,485.0 203.9,455.0 214.0,547.0 224.2,560.0 234.3,556.1 244.4,553.3 254.5,545.9 264.6,542.0 274.7,540.0 284.8,540.0 294.9,555.0 305.0,530.0 315.1,506.0 325.2,540.0 335.4,506.9 345.5,560.5 355.6,560.5 365.7,556.3 375.8,560.5 385.9,557.1 396.0,560.5 406.1,560.5 416.2,560.5 426.3,560.5 436.5,560.5 446.6,560.5 456.7,560.5 466.8,543.4 476.9,560.5 487.0,560.5 497.1,560.5 507.2,560.5 517.3,558.7 527.4,560.5 537.5,560.5 547.7,560.5 557.8,560.5 567.9,560.5 578.0,560.5 588.1,560.5 598.2,560.5 608.3,549.6 618.4,560.5 628.5,546.7 638.6,560.5 648.8,560.5 658.9,556.1 669.0,552.6 679.1,554.4 689.2,549.6 699.3,556.8 709.4,560.5 719.5,560.5 729.6,552.1 739.7,560.5 749.8,555.9 760.0,560.5 770.1,550.5 780.2,560.5 790.3,560.5 800.4,554.8 810.5,560.5" fill="none" stroke="#1748bb" stroke-width="0.9" stroke-linejoin="round" /><polyline points="173.6,560.5 183.7,505.0 193.8,527.0 203.9,470.0 214.0,554.0 224.2,549.0 234.3,557.4 244.4,559.0 254.5,560.5 264.6,525.0 274.7,515.0 284.8,548.0 294.9,545.0 305.0,553.6 315.1,560.5 325.2,560.5 335.4,555.6 345.5,560.5 355.6,560.5 365.7,553.0 375.8,532.9 385.9,512.7 396.0,560.5 406.1,512.6 416.2,560.5 426.3,560.5 436.5,552.9 446.6,560.5 456.7,560.5 466.8,560.5 476.9,560.5 487.0,560.5 497.1,560.5 507.2,560.5 517.3,560.5 527.4,556.5 537.5,518.9 547.7,560.5 557.8,560.5 567.9,560.5 578.0,552.2 588.1,560.5 598.2,560.5 608.3,560.5 618.4,560.5 628.5,560.5 638.6,560.5 648.8,560.5 658.9,560.5 669.0,557.0 679.1,560.5 689.2,560.5 699.3,547.8 709.4,560.5 719.5,560.5 729.6,560.5 739.7,560.5 749.8,557.6 760.0,560.5 770.1,560.5 780.2,560.5 790.3,560.5 800.4,558.1 810.5,556.7" fill="none" stroke="#176cc2" stroke-width="0.9" stroke-linejoin="round" /><polyline points="173.6,560.5 183.7,480.0 193.8,525.0 203.9,530.0 214.0,560.0 224.2,556.0 234.3,560.5 244.4,560.5 254.5,560.5 264.6,470.0 274.7,404.6 284.8,470.0 294.9,540.0 305.0,555.7 315.1,560.5 325.2,560.5 335.4,560.5 345.5,555.9 355.6,560.5 365.7,552.0 375.8,556.9 385.9,556.7 396.0,541.2 406.1,560.5 416.2,560.5 426.3,554.2 436.5,554.9 446.6,560.5 456.7,547.6 466.8,560.5 476.9,560.5 487.0,556.3 497.1,560.5 507.2,540.6 517.3,560.5 527.4,531.0 537.5,540.3 547.7,560.5 557.8,554.4 567.9,560.5 578.0,560.5 588.1,556.0 598.2,560.5 608.3,560.5 618.4,543.7 628.5,560.5 638.6,560.5 648.8,560.5 658.9,560.5 669.0,560.5 679.1,560.5 689.2,560.5 699.3,560.5 709.4,560.5 719.5,560.5 729.6,549.0 739.7,552.5 749.8,560.5 760.0,560.5 770.1,560.5 780.2,558.8 790.3,560.5 800.4,560.5 810.5,560.5" fill="none" stroke="#1790c2" stroke-width="0.9" stroke-linejoin="round" /><polyline points="173.6,560.5 183.7,437.5 193.8,455.0 203.9,425.8 214.0,540.0 224.2,557.0 234.3,546.1 244.4,555.4 254.5,560.5 264.6,554.0 274.7,500.0 284.8,532.0 294.9,500.0 305.0,560.5 315.1,560.5 325.2,549.4 335.4,560.5 345.5,534.4 355.6,547.2 365.7,559.4 375.8,560.5 385.9,556.0 396.0,527.9 406.1,560.5 416.2,560.5 426.3,546.6 436.5,532.3 446.6,560.5 456.7,553.4 466.8,560.5 476.9,545.6 487.0,549.3 497.1,560.5 507.2,560.5 517.3,560.5 527.4,553.8 537.5,560.5 547.7,558.9 557.8,560.5 567.9,560.5 578.0,555.7 588.1,557.2 598.2,560.5 608.3,560.5 618.4,560.5 628.5,560.5 638.6,560.5 648.8,560.5 658.9,560.5 669.0,560.5 679.1,554.5 689.2,554.0 699.3,560.5 709.4,560.5 719.5,560.5 729.6,550.9 739.7,553.2 749.8,560.5 760.0,560.5 770.1,532.0 780.2,560.5 790.3,550.7 800.4,554.3 810.5,546.4" fill="none" stroke="#17a5b4" stroke-width="0.9" stroke-linejoin="round" /><polyline points="173.6,560.5 183.7,515.0 193.8,528.0 203.9,518.0 214.0,557.0 224.2,545.0 234.3,525.0 244.4,548.0 254.5,560.5 264.6,549.0 274.7,528.0 284.8,560.0 294.9,530.0 305.0,560.5 315.1,533.7 325.2,555.2 335.4,544.0 345.5,554.8 355.6,550.4 365.7,560.5 375.8,560.5 385.9,560.5 396.0,558.8 406.1,560.5 416.2,507.8 426.3,546.9 436.5,560.5 446.6,560.5 456.7,560.5 466.8,560.5 476.9,553.8 487.0,560.5 497.1,560.5 507.2,560.5 517.3,522.3 527.4,501.5 537.5,560.5 547.7,560.5 557.8,560.5 567.9,560.5 578.0,549.0 588.1,560.5 598.2,560.5 608.3,552.0 618.4,560.5 628.5,560.5 638.6,550.9 648.8,560.5 658.9,560.5 669.0,560.5 679.1,560.5 689.2,560.5 699.3,560.5 709.4,560.5 719.5,557.6 729.6,553.7 739.7,560.5 749.8,560.5 760.0,554.9 770.1,560.5 780.2,560.5 790.3,560.5 800.4,560.5 810.5,560.5" fill="none" stroke="#17a585" stroke-width="0.9" stroke-linejoin="round" /><polyline points="173.6,560.5 183.7,470.0 193.8,498.0 203.9,468.0 214.0,549.0 224.2,554.0 234.3,545.9 244.4,551.8 254.5,556.9 264.6,535.0 274.7,555.0 284.8,535.0 294.9,560.0 305.0,544.5 315.1,560.5 325.2,553.5 335.4,560.5 345.5,560.5 355.6,546.3 365.7,560.5 375.8,560.5 385.9,541.0 396.0,560.5 406.1,560.5 416.2,560.5 426.3,560.5 436.5,560.5 446.6,560.5 456.7,560.5 466.8,560.5 476.9,560.5 487.0,560.5 497.1,560.5 507.2,550.2 517.3,546.2 527.4,560.5 537.5,547.3 547.7,557.3 557.8,560.5 567.9,560.5 578.0,556.4 588.1,560.5 598.2,560.5 608.3,560.5 618.4,560.5 628.5,560.5 638.6,560.5 648.8,560.5 658.9,555.8 669.0,560.5 679.1,558.5 689.2,551.9 699.3,551.1 709.4,560.5 719.5,552.8 729.6,560.5 739.7,560.5 749.8,560.5 760.0,560.5 770.1,560.5 780.2,560.5 790.3,560.5 800.4,558.2 810.5,549.2" fill="none" stroke="#17a564" stroke-width="0.9" stroke-linejoin="round" /><polyline points="173.6,560.5 183.7,487.0 193.8,492.0 203.9,536.0 214.0,560.0 224.2,550.0 234.3,528.0 244.4,552.0 254.5,547.2 264.6,543.0 274.7,525.0 284.8,527.0 294.9,550.0 305.0,550.3 315.1,544.2 325.2,560.5 335.4,560.5 345.5,547.2 355.6,560.5 365.7,556.7 375.8,537.4 385.9,560.5 396.0,546.2 406.1,521.3 416.2,560.5 426.3,552.8 436.5,545.2 446.6,560.5 456.7,554.1 466.8,560.5 476.9,560.5 487.0,560.5 497.1,560.5 507.2,557.7 517.3,560.5 527.4,560.5 537.5,560.5 547.7,560.5 557.8,560.5 567.9,545.0 578.0,552.6 588.1,560.5 598.2,560.5 608.3,560.5 618.4,560.5 628.5,560.5 638.6,560.5 648.8,560.5 658.9,557.0 669.0,560.5 679.1,560.5 689.2,560.5 699.3,560.5 709.4,556.0 719.5,560.5 729.6,560.5 739.7,560.5 749.8,551.0 760.0,554.9 770.1,560.5 780.2,560.5 790.3,560.5 800.4,552.7 810.5,543.6" fill="none" stroke="#17ac40" stroke-width="0.9" stroke-linejoin="round" /><polyline points="173.6,560.5 183.7,478.0 193.8,510.0 203.9,441.0 214.0,546.0 224.2,552.0 234.3,553.0 244.4,558.4 254.5,560.5 264.6,547.0 274.7,493.0 284.8,520.0 294.9,542.0 305.0,558.7 315.1,553.8 325.2,560.5 335.4,560.5 345.5,542.9 355.6,560.5 365.7,560.5 375.8,560.5 385.9,560.5 396.0,560.5 406.1,541.5 416.2,526.1 426.3,560.5 436.5,560.5 446.6,560.5 456.7,560.5 466.8,560.5 476.9,560.5 487.0,560.5 497.1,560.5 507.2,556.0 517.3,560.5 527.4,546.5 537.5,560.5 547.7,548.0 557.8,550.3 567.9,560.5 578.0,524.9 588.1,560.5 598.2,560.5 608.3,506.5 618.4,560.5 628.5,560.5 638.6,560.5 648.8,525.3 658.9,560.5 669.0,560.5 679.1,560.5 689.2,552.1 699.3,560.5 709.4,560.5 719.5,551.8 729.6,550.0 739.7,560.5 749.8,557.0 760.0,560.5 770.1,554.4 780.2,560.5 790.3,557.7 800.4,560.5 810.5,541.2" fill="none" stroke="#12b412" stroke-width="0.9" stroke-linejoin="round" /><polyline points="173.6,560.5 183.7,474.0 193.8,508.0 203.9,440.0 214.0,553.0 224.2,560.0 234.3,560.5 244.4,557.7 254.5,557.4 264.6,560.0 274.7,537.0 284.8,510.0 294.9,545.0 305.0,560.5 315.1,560.5 325.2,560.5 335.4,547.7 345.5,560.5 355.6,560.5 365.7,547.6 375.8,548.6 385.9,560.5 396.0,556.3 406.1,560.5 416.2,556.4 426.3,560.5 436.5,560.5 446.6,557.6 456.7,560.5 466.8,557.8 476.9,560.5 487.0,560.5 497.1,560.5 507.2,560.5 517.3,520.5 527.4,560.5 537.5,540.3 547.7,560.5 557.8,560.5 567.9,549.2 578.0,560.5 588.1,537.3 598.2,560.5 608.3,560.5 618.4,555.8 628.5,560.5 638.6,542.8 648.8,560.5 658.9,552.0 669.0,560.5 679.1,560.5 689.2,560.5 699.3,560.5 709.4,552.9 719.5,560.5 729.6,555.3 739.7,560.5 749.8,560.5 760.0,560.5 770.1,515.8 780.2,560.5 790.3,560.5 800.4,559.0 810.5,560.5" fill="none" stroke="#0eb70e" stroke-width="0.9" stroke-linejoin="round" /><polyline points="173.6,560.5 183.7,451.0 193.8,500.0 203.9,426.0 214.0,559.0 224.2,553.0 234.3,560.5 244.4,559.0 254.5,560.5 264.6,557.0 274.7,426.5 284.8,500.0 294.9,540.0 305.0,560.5 315.1,560.5 325.2,560.5 335.4,553.2 345.5,549.5 355.6,554.0 365.7,548.4 375.8,560.5 385.9,560.5 396.0,560.5 406.1,552.5 416.2,560.5 426.3,560.5 436.5,560.5 446.6,560.5 456.7,560.5 466.8,560.5 476.9,560.5 487.0,560.5 497.1,560.5 507.2,560.5 517.3,560.5 527.4,560.5 537.5,560.5 547.7,553.5 557.8,560.5 567.9,560.5 578.0,560.5 588.1,553.2 598.2,560.5 608.3,560.5 618.4,547.8 628.5,560.5 638.6,516.0 648.8,560.5 658.9,560.5 669.0,560.5 679.1,560.5 689.2,553.3 699.3,560.5 709.4,560.5 719.5,560.5 729.6,560.5 739.7,560.5 749.8,560.5 760.0,560.5 770.1,560.5 780.2,560.5 790.3,560.5 800.4,560.5 810.5,560.5" fill="none" stroke="#bbb012" stroke-width="0.9" stroke-linejoin="round" /><polyline points="173.6,560.5 183.7,460.0 193.8,495.0 203.9,462.0 214.0,558.0 224.2,560.0 234.3,551.5 244.4,560.5 254.5,560.5 264.6,463.5 274.7,520.0 284.8,545.0 294.9,560.0 305.0,508.6 315.1,560.5 325.2,560.5 335.4,560.5 345.5,560.5 355.6,560.5 365.7,560.5 375.8,560.5 385.9,551.2 396.0,560.5 406.1,560.5 416.2,560.5 426.3,560.5 436.5,560.5 446.6,554.8 456.7,560.5 466.8,560.5 476.9,548.9 487.0,560.5 497.1,560.5 507.2,560.5 517.3,556.2 527.4,555.7 537.5,560.5 547.7,549.2 557.8,547.3 567.9,559.1 578.0,560.5 588.1,560.5 598.2,560.5 608.3,556.3 618.4,551.2 628.5,560.5 638.6,560.5 648.8,560.5 658.9,560.5 669.0,560.5 679.1,560.5 689.2,560.5 699.3,560.5 709.4,553.2 719.5,560.5 729.6,560.5 739.7,560.5 749.8,555.4 760.0,535.4 770.1,560.5 780.2,556.0 790.3,557.3 800.4,560.5 810.5,560.5" fill="none" stroke="#bba212" stroke-width="0.9" stroke-linejoin="round" /><polyline points="173.6,560.5 183.7,503.0 193.8,470.0 203.9,474.0 214.0,550.0 224.2,540.0 234.3,555.7 244.4,560.5 254.5,555.3 264.6,537.0 274.7,482.0 284.8,542.0 294.9,560.0 305.0,560.5 315.1,560.5 325.2,558.3 335.4,560.5 345.5,512.2 355.6,560.5 365.7,552.5 375.8,546.4 385.9,560.5 396.0,545.8 406.1,556.5 416.2,555.7 426.3,560.5 436.5,560.5 446.6,542.4 456.7,560.5 466.8,545.2 476.9,555.6 487.0,560.5 497.1,555.7 507.2,560.5 517.3,556.2 527.4,560.5 537.5,560.5 547.7,560.5 557.8,560.5 567.9,560.5 578.0,542.0 588.1,560.5 598.2,560.5 608.3,560.5 618.4,548.4 628.5,560.5 638.6,560.5 648.8,560.5 658.9,560.5 669.0,560.5 679.1,560.5 689.2,555.8 699.3,560.5 709.4,560.5 719.5,560.5 729.6,560.5 739.7,517.0 749.8,487.2 760.0,540.0 770.1,560.5 780.2,560.5 790.3,560.5 800.4,560.5 810.5,543.4" fill="none" stroke="#bb9012" stroke-width="0.9" stroke-linejoin="round" /><polyline points="173.6,560.5 183.7,479.0 193.8,465.0 203.9,343.0 214.0,470.0 224.2,534.0 234.3,560.5 244.4,558.0 254.5,560.5 264.6,520.0 274.7,520.0 284.8,505.0 294.9,560.0 305.0,560.5 315.1,555.4 325.2,553.9 335.4,554.5 345.5,551.2 355.6,557.9 365.7,560.5 375.8,560.5 385.9,560.5 396.0,560.5 406.1,529.7 416.2,554.9 426.3,560.5 436.5,560.5 446.6,560.5 456.7,542.5 466.8,555.8 476.9,554.9 487.0,560.5 497.1,550.8 507.2,560.5 517.3,560.5 527.4,560.5 537.5,540.9 547.7,560.5 557.8,557.6 567.9,560.5 578.0,560.5 588.1,560.5 598.2,560.5 608.3,560.5 618.4,556.5 628.5,557.4 638.6,551.7 648.8,560.5 658.9,560.5 669.0,560.5 679.1,560.5 689.2,560.5 699.3,560.5 709.4,560.5 719.5,560.5 729.6,560.5 739.7,560.5 749.8,560.5 760.0,560.5 770.1,560.5 780.2,560.5 790.3,557.4 800.4,550.7 810.5,552.2" fill="none" stroke="#bb8112" stroke-width="0.9" stroke-linejoin="round" /><polyline points="173.6,560.5 183.7,486.0 193.8,505.0 203.9,456.0 214.0,548.0 224.2,548.0 234.3,548.2 244.4,556.0 254.5,552.0 264.6,500.0 274.7,426.5 284.8,424.6 294.9,500.0 305.0,545.0 315.1,560.5 325.2,502.9 335.4,552.6 345.5,560.5 355.6,560.5 365.7,554.8 375.8,559.0 385.9,560.5 396.0,560.5 406.1,560.5 416.2,560.5 426.3,560.5 436.5,557.7 446.6,560.5 456.7,560.5 466.8,560.5 476.9,560.5 487.0,552.6 497.1,560.5 507.2,560.5 517.3,560.5 527.4,560.5 537.5,560.5 547.7,560.5 557.8,560.5 567.9,560.5 578.0,560.5 588.1,560.5 598.2,560.5 608.3,560.5 618.4,560.5 628.5,560.5 638.6,560.5 648.8,560.5 658.9,547.3 669.0,560.5 679.1,554.3 689.2,548.4 699.3,560.5 709.4,560.5 719.5,511.9 729.6,560.5 739.7,560.5 749.8,560.5 760.0,560.5 770.1,521.9 780.2,554.8 790.3,550.1 800.4,560.5 810.5,560.5" fill="none" stroke="#bb7312" stroke-width="0.9" stroke-linejoin="round" /><polyline points="173.6,560.5 183.7,438.0 193.8,490.0 203.9,482.0 214.0,550.0 224.2,560.0 234.3,543.0 244.4,557.8 254.5,560.5 264.6,559.0 274.7,495.0 284.8,538.0 294.9,557.0 305.0,560.5 315.1,560.5 325.2,546.7 335.4,548.5 345.5,551.5 355.6,554.2 365.7,555.7 375.8,555.3 385.9,560.5 396.0,531.7 406.1,551.9 416.2,560.5 426.3,560.5 436.5,560.5 446.6,560.5 456.7,534.9 466.8,560.5 476.9,558.0 487.0,560.5 497.1,560.5 507.2,560.5 517.3,553.0 527.4,560.5 537.5,551.1 547.7,560.5 557.8,560.5 567.9,560.5 578.0,560.5 588.1,560.5 598.2,533.1 608.3,560.5 618.4,560.5 628.5,560.5 638.6,560.5 648.8,560.5 658.9,560.5 669.0,560.5 679.1,560.5 689.2,560.5 699.3,555.9 709.4,560.5 719.5,560.5 729.6,560.5 739.7,560.5 749.8,555.5 760.0,548.2 770.1,556.8 780.2,520.4 790.3,560.5 800.4,560.5 810.5,560.5" fill="none" stroke="#bb6412" stroke-width="0.9" stroke-linejoin="round" /><polyline points="173.6,560.5 183.7,485.0 193.8,535.0 203.9,515.0 214.0,560.0 224.2,551.0 234.3,560.5 244.4,555.5 254.5,556.6 264.6,555.0 274.7,548.0 284.8,535.0 294.9,530.0 305.0,474.5 315.1,545.0 325.2,550.8 335.4,550.7 345.5,560.5 355.6,551.8 365.7,556.2 375.8,560.5 385.9,558.3 396.0,560.5 406.1,557.0 416.2,555.3 426.3,560.5 436.5,560.5 446.6,560.5 456.7,550.8 466.8,560.5 476.9,560.5 487.0,560.5 497.1,523.1 507.2,560.5 517.3,560.5 527.4,560.5 537.5,560.5 547.7,560.5 557.8,531.5 567.9,556.1 578.0,560.5 588.1,560.5 598.2,560.5 608.3,560.5 618.4,560.5 628.5,560.5 638.6,560.5 648.8,560.5 658.9,560.5 669.0,560.5 679.1,560.5 689.2,560.5 699.3,543.9 709.4,560.5 719.5,560.5 729.6,560.5 739.7,560.5 749.8,554.8 760.0,553.8 770.1,556.7 780.2,560.5 790.3,560.5 800.4,560.5 810.5,560.5" fill="none" stroke="#bb5612" stroke-width="0.9" stroke-linejoin="round" /><polyline points="173.6,560.5 183.7,475.0 193.8,518.0 203.9,505.0 214.0,560.0 224.2,560.0 234.3,552.6 244.4,557.0 254.5,560.5 264.6,556.0 274.7,518.0 284.8,424.6 294.9,520.0 305.0,560.5 315.1,560.5 325.2,560.5 335.4,549.0 345.5,560.5 355.6,556.7 365.7,560.5 375.8,560.5 385.9,560.5 396.0,554.1 406.1,560.5 416.2,549.9 426.3,560.5 436.5,546.9 446.6,560.5 456.7,560.5 466.8,560.5 476.9,521.8 487.0,560.5 497.1,524.6 507.2,560.5 517.3,560.5 527.4,560.5 537.5,509.8 547.7,560.5 557.8,560.5 567.9,558.6 578.0,560.5 588.1,558.1 598.2,554.2 608.3,554.3 618.4,560.5 628.5,517.7 638.6,557.8 648.8,560.5 658.9,560.5 669.0,560.5 679.1,560.5 689.2,560.5 699.3,560.5 709.4,560.5 719.5,560.5 729.6,555.5 739.7,542.9 749.8,557.8 760.0,560.5 770.1,560.5 780.2,560.5 790.3,560.5 800.4,560.5 810.5,552.5" fill="none" stroke="#b4481c" stroke-width="0.9" stroke-linejoin="round" /><polyline points="173.6,560.5 183.7,508.0 193.8,532.0 203.9,490.0 214.0,560.0 224.2,545.0 234.3,556.3 244.4,553.4 254.5,556.8 264.6,560.0 274.7,483.0 284.8,552.0 294.9,520.0 305.0,557.7 315.1,550.0 325.2,549.4 335.4,555.5 345.5,560.5 355.6,552.7 365.7,560.5 375.8,560.5 385.9,560.5 396.0,543.3 406.1,560.5 416.2,516.1 426.3,508.9 436.5,560.5 446.6,560.5 456.7,560.5 466.8,560.5 476.9,555.3 487.0,520.2 497.1,560.5 507.2,560.5 517.3,558.8 527.4,560.5 537.5,560.5 547.7,560.5 557.8,490.4 567.9,550.0 578.0,560.5 588.1,560.5 598.2,560.5 608.3,560.5 618.4,560.5 628.5,560.5 638.6,560.5 648.8,560.5 658.9,560.5 669.0,560.5 679.1,560.5 689.2,560.5 699.3,560.5 709.4,550.7 719.5,556.9 729.6,560.5 739.7,530.7 749.8,529.8 760.0,538.4 770.1,560.5 780.2,548.7 790.3,543.6 800.4,560.5 810.5,560.5" fill="none" stroke="#ac391c" stroke-width="0.9" stroke-linejoin="round" /><polyline points="173.6,560.5 183.7,494.0 193.8,462.0 203.9,478.0 214.0,560.0 224.2,560.0 234.3,554.2 244.4,551.8 254.5,560.5 264.6,515.0 274.7,512.0 284.8,528.0 294.9,558.0 305.0,560.5 315.1,560.5 325.2,551.4 335.4,560.5 345.5,537.9 355.6,520.5 365.7,560.5 375.8,560.5 385.9,557.0 396.0,560.5 406.1,553.7 416.2,548.6 426.3,560.5 436.5,517.7 446.6,560.5 456.7,554.4 466.8,551.7 476.9,553.6 487.0,560.5 497.1,560.5 507.2,550.4 517.3,559.5 527.4,560.5 537.5,560.5 547.7,560.5 557.8,560.5 567.9,560.5 578.0,560.5 588.1,557.9 598.2,549.7 608.3,525.0 618.4,560.5 628.5,553.9 638.6,560.5 648.8,560.5 658.9,560.5 669.0,560.5 679.1,560.5 689.2,560.5 699.3,560.5 709.4,560.5 719.5,539.6 729.6,560.5 739.7,560.5 749.8,532.0 760.0,555.1 770.1,560.5 780.2,556.8 790.3,560.5 800.4,560.5 810.5,560.5" fill="none" stroke="#9e1c1c" stroke-width="0.9" stroke-linejoin="round" /><polyline points="173.6,560.5 183.7,525.0 193.8,480.0 203.9,500.0 214.0,560.0 224.2,557.0 234.3,553.1 244.4,560.5 254.5,560.5 264.6,552.0 274.7,523.0 284.8,558.0 294.9,528.0 305.0,560.5 315.1,560.5 325.2,554.8 335.4,557.0 345.5,560.5 355.6,550.8 365.7,560.5 375.8,556.2 385.9,553.4 396.0,560.5 406.1,560.5 416.2,548.9 426.3,504.8 436.5,560.5 446.6,523.9 456.7,560.5 466.8,551.9 476.9,546.1 487.0,555.9 497.1,560.5 507.2,560.5 517.3,560.5 527.4,508.8 537.5,560.5 547.7,560.5 557.8,560.5 567.9,560.5 578.0,560.5 588.1,560.5 598.2,560.5 608.3,560.5 618.4,555.4 628.5,560.5 638.6,560.5 648.8,554.1 658.9,560.5 669.0,560.5 679.1,547.4 689.2,546.8 699.3,560.5 709.4,560.5 719.5,560.5 729.6,560.5 739.7,560.5 749.8,560.5 760.0,552.7 770.1,560.5 780.2,560.5 790.3,550.1 800.4,560.5 810.5,560.5" fill="none" stroke="#1748bb" stroke-width="0.9" stroke-linejoin="round" /><polyline points="173.6,560.5 183.7,498.0 193.8,430.0 203.9,488.0 214.0,549.0 224.2,559.0 234.3,543.0 244.4,556.6 254.5,556.5 264.6,540.0 274.7,490.0 284.8,480.0 294.9,540.0 305.0,560.5 315.1,560.5 325.2,560.5 335.4,560.5 345.5,513.1 355.6,560.5 365.7,560.5 375.8,560.5 385.9,560.5 396.0,560.5 406.1,560.5 416.2,560.5 426.3,537.1 436.5,560.5 446.6,527.2 456.7,560.5 466.8,548.2 476.9,560.5 487.0,558.3 497.1,556.8 507.2,560.5 517.3,560.5 527.4,557.5 537.5,560.5 547.7,560.5 557.8,560.5 567.9,560.5 578.0,560.5 588.1,553.7 598.2,545.7 608.3,540.3 618.4,560.5 628.5,560.5 638.6,560.5 648.8,560.5 658.9,560.5 669.0,560.5 679.1,560.5 689.2,560.5 699.3,555.0 709.4,560.5 719.5,560.5 729.6,560.5 739.7,560.5 749.8,509.3 760.0,560.5 770.1,560.5 780.2,529.9 790.3,438.6 800.4,520.0 810.5,560.5" fill="none" stroke="#1773c2" stroke-width="0.9" stroke-linejoin="round" /><polyline points="173.6,560.5 183.7,484.0 193.8,520.0 203.9,450.0 214.0,551.0 224.2,550.0 234.3,560.5 244.4,556.3 254.5,560.5 264.6,463.5 274.7,530.0 284.8,515.0 294.9,556.0 305.0,557.4 315.1,513.6 325.2,560.5 335.4,560.5 345.5,560.5 355.6,560.5 365.7,560.5 375.8,554.0 385.9,555.3 396.0,553.4 406.1,551.9 416.2,560.5 426.3,560.5 436.5,560.5 446.6,560.5 456.7,560.5 466.8,560.5 476.9,560.5 487.0,560.5 497.1,560.5 507.2,560.5 517.3,560.5 527.4,560.5 537.5,560.5 547.7,560.5 557.8,557.3 567.9,552.7 578.0,558.2 588.1,560.5 598.2,560.5 608.3,560.5 618.4,560.5 628.5,550.7 638.6,544.3 648.8,541.7 658.9,560.5 669.0,549.6 679.1,554.9 689.2,560.5 699.3,560.5 709.4,557.1 719.5,560.5 729.6,560.5 739.7,560.5 749.8,560.5 760.0,560.5 770.1,560.5 780.2,555.7 790.3,560.5 800.4,556.2 810.5,560.5" fill="none" stroke="#1797c2" stroke-width="0.9" stroke-linejoin="round" /><polyline points="173.6,560.5 183.7,520.0 193.8,512.0 203.9,485.0 214.0,556.0 224.2,543.0 234.3,552.9 244.4,560.5 254.5,560.5 264.6,558.0 274.7,508.0 284.8,556.0 294.9,530.0 305.0,560.5 315.1,560.5 325.2,560.5 335.4,555.9 345.5,560.5 355.6,560.5 365.7,560.5 375.8,547.6 385.9,536.3 396.0,552.1 406.1,560.5 416.2,560.5 426.3,560.5 436.5,560.5 446.6,560.5 456.7,539.4 466.8,560.5 476.9,560.5 487.0,560.5 497.1,552.3 507.2,560.5 517.3,560.5 527.4,560.5 537.5,560.5 547.7,552.4 557.8,560.5 567.9,525.3 578.0,553.4 588.1,560.5 598.2,560.5 608.3,560.5 618.4,546.7 628.5,491.8 638.6,540.0 648.8,560.5 658.9,560.5 669.0,560.5 679.1,560.5 689.2,555.3 699.3,560.5 709.4,560.5 719.5,560.5 729.6,560.5 739.7,560.5 749.8,558.0 760.0,560.5 770.1,560.5 780.2,545.2 790.3,560.5 800.4,560.5 810.5,560.5" fill="none" stroke="#17a5b4" stroke-width="0.9" stroke-linejoin="round" /><polyline points="173.6,560.5 183.7,490.0 193.8,470.0 203.9,460.0 214.0,557.0 224.2,558.0 234.3,560.5 244.4,560.5 254.5,560.5 264.6,551.0 274.7,510.0 284.8,530.0 294.9,552.0 305.0,556.5 315.1,551.7 325.2,560.5 335.4,560.5 345.5,560.5 355.6,554.5 365.7,560.5 375.8,554.3 385.9,560.5 396.0,552.6 406.1,549.6 416.2,560.5 426.3,539.2 436.5,560.5 446.6,540.3 456.7,560.5 466.8,560.5 476.9,560.5 487.0,560.5 497.1,560.5 507.2,560.5 517.3,560.5 527.4,556.3 537.5,560.5 547.7,560.5 557.8,560.5 567.9,560.5 578.0,560.5 588.1,560.5 598.2,558.4 608.3,560.5 618.4,560.5 628.5,541.3 638.6,553.9 648.8,560.5 658.9,560.5 669.0,560.5 679.1,560.5 689.2,560.5 699.3,560.5 709.4,560.5 719.5,554.8 729.6,557.1 739.7,548.7 749.8,560.5 760.0,560.5 770.1,560.5 780.2,560.5 790.3,560.5 800.4,560.5 810.5,560.5" fill="none" stroke="#17a585" stroke-width="0.9" stroke-linejoin="round" /><polyline points="173.6,560.5 183.7,483.0 193.8,522.0 203.9,495.0 214.0,558.0 224.2,560.0 234.3,556.2 244.4,559.4 254.5,560.5 264.6,560.0 274.7,535.0 284.8,560.0 294.9,548.0 305.0,560.5 315.1,542.1 325.2,560.5 335.4,553.5 345.5,560.5 355.6,560.5 365.7,560.5 375.8,520.8 385.9,560.5 396.0,560.5 406.1,560.5 416.2,552.7 426.3,560.5 436.5,560.5 446.6,555.0 456.7,549.3 466.8,560.5 476.9,560.5 487.0,560.5 497.1,545.8 507.2,560.5 517.3,555.4 527.4,560.5 537.5,560.5 547.7,560.5 557.8,557.5 567.9,560.5 578.0,544.2 588.1,560.5 598.2,560.5 608.3,560.5 618.4,543.0 628.5,560.5 638.6,560.5 648.8,560.5 658.9,560.5 669.0,557.7 679.1,560.5 689.2,560.5 699.3,560.5 709.4,560.5 719.5,560.5 729.6,560.5 739.7,560.5 749.8,560.5 760.0,560.5 770.1,560.5 780.2,560.5 790.3,560.5 800.4,555.0 810.5,560.5" fill="none" stroke="#17ac64" stroke-width="0.9" stroke-linejoin="round" /><polyline points="173.6,560.5 183.7,488.0 193.8,541.0 203.9,508.0 214.0,556.0 224.2,560.0 234.3,553.1 244.4,552.1 254.5,556.9 264.6,538.0 274.7,560.0 284.8,522.0 294.9,553.0 305.0,553.9 315.1,525.4 325.2,513.6 335.4,559.1 345.5,555.4 355.6,551.0 365.7,548.9 375.8,560.5 385.9,560.5 396.0,547.1 406.1,556.7 416.2,560.5 426.3,556.8 436.5,560.5 446.6,557.3 456.7,555.6 466.8,560.5 476.9,560.5 487.0,555.8 497.1,560.5 507.2,560.5 517.3,560.5 527.4,560.5 537.5,560.5 547.7,560.5 557.8,546.3 567.9,560.5 578.0,560.5 588.1,548.7 598.2,560.5 608.3,560.5 618.4,560.5 628.5,560.5 638.6,537.1 648.8,519.0 658.9,556.6 669.0,560.5 679.1,560.5 689.2,560.5 699.3,560.5 709.4,560.5 719.5,560.5 729.6,560.5 739.7,560.5 749.8,560.5 760.0,560.5 770.1,550.8 780.2,560.5 790.3,560.5 800.4,553.9 810.5,560.5" fill="none" stroke="#17ac40" stroke-width="0.9" stroke-linejoin="round" /><polyline points="173.6,560.5 183.7,492.0 193.8,475.0 203.9,510.0 214.0,552.0 224.2,559.0 234.3,557.5 244.4,560.5 254.5,560.5 264.6,530.0 274.7,558.0 284.8,512.0 294.9,560.0 305.0,548.4 315.1,537.3 325.2,506.0 335.4,553.4 345.5,560.5 355.6,558.1 365.7,560.5 375.8,514.6 385.9,550.2 396.0,560.5 406.1,560.5 416.2,546.7 426.3,560.5 436.5,560.5 446.6,560.5 456.7,522.6 466.8,560.5 476.9,560.5 487.0,540.2 497.1,560.5 507.2,560.5 517.3,560.5 527.4,560.5 537.5,560.5 547.7,541.7 557.8,560.5 567.9,531.5 578.0,560.5 588.1,560.5 598.2,560.5 608.3,560.5 618.4,560.5 628.5,556.8 638.6,560.5 648.8,560.5 658.9,560.5 669.0,546.9 679.1,560.5 689.2,560.5 699.3,553.0 709.4,560.5 719.5,560.5 729.6,560.5 739.7,553.7 749.8,513.3 760.0,560.5 770.1,560.5 780.2,555.8 790.3,555.7 800.4,550.5 810.5,551.0" fill="none" stroke="#12b41c" stroke-width="0.9" stroke-linejoin="round" /><polyline points="173.6,560.5 183.7,510.0 193.8,515.0 203.9,520.0 214.0,552.0 224.2,555.0 234.3,560.5 244.4,558.2 254.5,558.9 264.6,545.0 274.7,505.0 284.8,525.0 294.9,560.0 305.0,556.1 315.1,560.5 325.2,560.5 335.4,560.5 345.5,560.5 355.6,560.5 365.7,560.5 375.8,555.8 385.9,560.5 396.0,546.7 406.1,560.5 416.2,553.9 426.3,560.5 436.5,560.5 446.6,560.5 456.7,540.8 466.8,540.2 476.9,560.5 487.0,560.5 497.1,560.5 507.2,560.5 517.3,543.1 527.4,560.5 537.5,560.5 547.7,560.5 557.8,560.5 567.9,555.5 578.0,560.5 588.1,560.5 598.2,560.5 608.3,560.5 618.4,560.5 628.5,560.5 638.6,560.5 648.8,560.5 658.9,505.1 669.0,560.5 679.1,560.5 689.2,560.5 699.3,551.8 709.4,560.5 719.5,560.5 729.6,560.5 739.7,560.5 749.8,560.5 760.0,560.5 770.1,560.5 780.2,560.5 790.3,553.1 800.4,560.5 810.5,545.3" fill="none" stroke="#0eb70e" stroke-width="0.9" stroke-linejoin="round" /><polyline points="173.6,560.5 183.7,482.0 193.8,455.0 203.9,446.0 214.0,560.0 224.2,560.0 234.3,553.8 244.4,552.6 254.5,558.2 264.6,500.0 274.7,503.0 284.8,518.0 294.9,538.0 305.0,555.2 315.1,560.5 325.2,560.5 335.4,551.9 345.5,552.0 355.6,560.5 365.7,556.7 375.8,549.5 385.9,518.0 396.0,560.5 406.1,560.5 416.2,560.5 426.3,560.5 436.5,556.7 446.6,551.6 456.7,560.5 466.8,560.5 476.9,551.1 487.0,555.6 497.1,560.5 507.2,560.5 517.3,560.5 527.4,506.7 537.5,560.5 547.7,560.5 557.8,560.5 567.9,546.4 578.0,560.5 588.1,507.6 598.2,552.5 608.3,555.8 618.4,560.5 628.5,560.5 638.6,560.5 648.8,517.2 658.9,560.5 669.0,560.5 679.1,560.5 689.2,551.6 699.3,553.2 709.4,560.5 719.5,560.5 729.6,560.5 739.7,560.5 749.8,548.2 760.0,557.7 770.1,546.7 780.2,560.5 790.3,560.5 800.4,548.0 810.5,560.5" fill="none" stroke="#bbb012" stroke-width="0.9" stroke-linejoin="round" /><polyline points="173.6,224.0 183.7,200.0 193.8,160.0 203.9,236.0 214.0,260.0 224.2,262.0 234.3,260.7 244.4,258.0 254.5,246.1 264.6,244.2 274.7,247.5 284.8,262.0 294.9,281.3 305.0,287.0 315.1,291.0 325.2,293.0 335.4,300.6 345.5,301.0 355.6,301.0 365.7,297.1 375.8,292.3 385.9,297.0 396.0,294.2 406.1,291.3 416.2,290.3 426.3,287.0 436.5,283.5 446.6,289.4 456.7,310.6 466.8,295.2 476.9,281.6 487.0,276.8 497.1,272.0 507.2,250.6 517.3,262.0 527.4,288.0 537.5,310.3 547.7,296.8 557.8,285.2 567.9,286.1 578.0,285.2 588.1,283.6 598.2,283.6 608.3,291.0 618.4,298.0 628.5,296.3 638.6,298.5 648.8,299.6 658.9,290.6 669.0,282.7 679.1,274.8 689.2,277.0 699.3,285.0 709.4,291.0 719.5,280.6 729.6,276.8 739.7,270.3 749.8,253.5 760.0,247.1 770.1,246.8 780.2,233.0 790.3,222.0 800.4,211.3 810.5,226.5" fill="none" stroke="#0a0af5" stroke-width="3.3" stroke-linejoin="round" /><polyline points="173.6,560.5 183.7,485.5 193.8,502.0 203.9,470.0 214.0,550.0 224.2,556.0 234.3,552.0 244.4,555.0 254.5,560.5 264.6,552.0 274.7,499.0 284.8,543.0 294.9,557.0 305.0,560.5 315.1,560.5 325.2,560.5 335.4,560.5 345.5,560.5 355.6,560.5 365.7,560.5 375.8,560.5 385.9,560.5 396.0,560.5 406.1,560.5 416.2,560.5 426.3,560.5 436.5,560.5 446.6,560.5 456.7,560.5 466.8,557.0 476.9,560.5 487.0,560.5 497.1,560.5 507.2,560.5 517.3,560.5 527.4,560.5 537.5,560.5 547.7,560.5 557.8,560.5 567.9,560.5 578.0,560.5 588.1,560.5 598.2,560.5 608.3,560.5 618.4,560.5 628.5,560.5 638.6,560.5 648.8,560.5 658.9,560.5 669.0,560.5 679.1,560.5 689.2,560.5 699.3,560.5 709.4,560.5 719.5,560.5 729.6,560.5 739.7,560.5 749.8,560.5 760.0,560.5 770.1,557.0 780.2,560.5 790.3,560.5 800.4,560.5 810.5,552.0" fill="none" stroke="#0a0af5" stroke-width="3.3" stroke-linejoin="round" /><polyline points="173.6,224.0 183.7,202.0 193.8,165.3 203.9,236.0 214.0,262.0 224.2,264.5 234.3,261.6 244.4,259.0 254.5,250.0 264.6,251.3 274.7,257.0 284.8,269.7 294.9,287.1 305.0,289.4 315.1,290.0 325.2,290.0 335.4,291.0 345.5,290.5 355.6,290.3 365.7,288.4 375.8,286.4 385.9,287.0 396.0,287.0 406.1,288.4 416.2,287.4 426.3,283.5 436.5,280.5 446.6,277.7 456.7,272.0 466.8,262.3 476.9,255.5 487.0,253.5 497.1,250.6 507.2,247.7 517.3,244.8 527.4,244.2 537.5,243.5 547.7,241.6 557.8,241.6 567.9,243.0 578.0,244.0 588.1,245.0 598.2,243.5 608.3,240.6 618.4,240.0 628.5,237.6 638.6,234.2 648.8,234.9 658.9,235.3 669.0,230.8 679.1,231.5 689.2,234.2 699.3,236.4 709.4,237.5 719.5,240.6 729.6,245.8 739.7,241.9 749.8,238.6 760.0,235.0 770.1,236.8 780.2,238.0 790.3,237.5 800.4,235.0 810.5,230.3" fill="none" stroke="#ffffff" stroke-width="3.4" stroke-linejoin="round" stroke-opacity="0.92"/><polyline points="173.6,560.5 183.7,496.0 193.8,492.5 203.9,476.0 214.0,551.0 224.2,554.5 234.3,547.5 244.4,552.0 254.5,555.3 264.6,534.7 274.7,521.0 284.8,537.5 294.9,551.2 305.0,552.5 315.1,552.5 325.2,556.6 335.4,557.0 345.5,558.0 355.6,557.0 365.7,556.0 375.8,552.0 385.9,557.0 396.0,556.4 406.1,555.0 416.2,556.4 426.3,556.5 436.5,557.0 446.6,557.0 456.7,557.0 466.8,553.6 476.9,555.0 487.0,557.0 497.1,555.6 507.2,556.0 517.3,556.0 527.4,557.0 537.5,556.0 547.7,555.0 557.8,553.0 567.9,556.0 578.0,557.0 588.1,557.0 598.2,557.0 608.3,556.0 618.4,556.0 628.5,557.0 638.6,557.0 648.8,556.0 658.9,557.0 669.0,557.0 679.1,557.0 689.2,556.0 699.3,556.0 709.4,557.0 719.5,557.0 729.6,556.0 739.7,555.0 749.8,555.0 760.0,554.0 770.1,553.0 780.2,553.0 790.3,553.0 800.4,552.0 810.5,558.0" fill="none" stroke="#ffffff" stroke-width="3.4" stroke-linejoin="round" stroke-opacity="0.92"/><polyline points="173.6,223.4 183.7,189.0 193.8,154.4 203.9,234.0 214.0,258.5 224.2,261.0 234.3,259.7 244.4,257.0 254.5,231.3 264.6,247.4 274.7,260.0 284.8,275.5 294.9,290.0 305.0,298.7 315.1,292.9 325.2,293.9 335.4,288.0 345.5,295.2 355.6,300.6 365.7,303.0 375.8,302.0 385.9,301.0 396.0,299.0 406.1,287.4 416.2,276.8 426.3,291.3 436.5,294.5 446.6,291.3 456.7,301.0 466.8,293.2 476.9,299.0 487.0,306.8 497.1,315.5 507.2,283.5 517.3,250.6 527.4,241.6 537.5,256.1 547.7,254.2 557.8,241.6 567.9,249.4 578.0,242.6 588.1,256.1 598.2,265.8 608.3,279.3 618.4,305.0 628.5,282.7 638.6,289.5 648.8,271.4 658.9,281.6 669.0,277.0 679.1,256.7 689.2,232.0 699.3,230.5 709.4,245.7 719.5,213.5 729.6,203.2 739.7,191.6 749.8,176.1 760.0,160.6 770.1,164.5 780.2,167.1 790.3,168.4 800.4,174.8 810.5,175.6" fill="none" stroke="#12dd12" stroke-width="3.4" stroke-linejoin="round" /><polyline points="173.6,560.5 183.7,496.0 193.8,540.0 203.9,447.0 214.0,553.0 224.2,557.0 234.3,553.0 244.4,556.0 254.5,558.0 264.6,548.4 274.7,482.7 284.8,548.4 294.9,560.5 305.0,560.5 315.1,560.5 325.2,560.5 335.4,560.5 345.5,560.5 355.6,560.5 365.7,560.5 375.8,560.5 385.9,560.5 396.0,557.0 406.1,553.0 416.2,557.0 426.3,560.5 436.5,560.5 446.6,560.5 456.7,560.5 466.8,560.5 476.9,560.5 487.0,560.5 497.1,560.5 507.2,560.5 517.3,560.5 527.4,560.5 537.5,560.5 547.7,560.5 557.8,560.5 567.9,560.5 578.0,560.5 588.1,560.5 598.2,555.0 608.3,546.0 618.4,553.0 628.5,560.5 638.6,560.5 648.8,560.5 658.9,560.5 669.0,560.5 679.1,552.0 689.2,546.0 699.3,551.0 709.4,555.0 719.5,560.5 729.6,560.5 739.7,560.5 749.8,560.5 760.0,560.5 770.1,560.5 780.2,560.5 790.3,560.5 800.4,560.5 810.5,560.5" fill="none" stroke="#12dd12" stroke-width="3.4" stroke-linejoin="round" /><polyline points="173.6,229.0 183.7,232.4 193.8,230.2 203.9,231.5 214.0,228.1 224.2,224.2 234.3,222.3 244.4,224.2 254.5,228.1 264.6,226.5 274.7,220.0 284.8,215.1 294.9,215.5 305.0,217.4 315.1,223.2 325.2,232.0 335.4,236.8 345.5,239.3 355.6,242.0 365.7,244.4 375.8,246.8 385.9,237.0 396.0,236.1 406.1,238.0 416.2,244.4 426.3,243.0 436.5,238.0 446.6,243.0 456.7,246.8 466.8,250.6 476.9,250.6 487.0,247.7 497.1,247.7 507.2,246.8 517.3,246.8 527.4,248.0 537.5,249.4 547.7,247.4 557.8,245.5 567.9,246.4 578.0,247.4 588.1,250.3 598.2,256.1 608.3,262.0 618.4,263.2 628.5,252.2 638.6,252.2 648.8,260.1 658.9,262.4 669.0,257.9 679.1,253.4 689.2,262.4 699.3,265.3 709.4,262.6 719.5,267.7 729.6,267.7 739.7,261.3 749.8,257.4 760.0,258.7 770.1,262.6 780.2,265.2 790.3,257.4 800.4,258.7 810.5,258.7" fill="none" stroke="#e84646" stroke-width="3.3" stroke-linejoin="round" /></g>
<rect x="163.5" y="30.5" width="647.0" height="530.0" fill="none" stroke="#f0f0f0" stroke-width="1.2"/>
<g stroke="#f4f4f4" stroke-width="1.1"><line x1="807.0" y1="547.5" x2="810.5" y2="547.5"/><line x1="805.0" y1="533.5" x2="810.5" y2="533.5"/><line x1="807.0" y1="520.5" x2="810.5" y2="520.5"/><line x1="805.0" y1="507.5" x2="810.5" y2="507.5"/><line x1="807.0" y1="494.5" x2="810.5" y2="494.5"/><line x1="805.0" y1="480.5" x2="810.5" y2="480.5"/><line x1="807.0" y1="467.5" x2="810.5" y2="467.5"/><line x1="805.0" y1="454.5" x2="810.5" y2="454.5"/><line x1="807.0" y1="441.5" x2="810.5" y2="441.5"/><line x1="805.0" y1="427.5" x2="810.5" y2="427.5"/><line x1="807.0" y1="414.5" x2="810.5" y2="414.5"/><line x1="805.0" y1="401.5" x2="810.5" y2="401.5"/><line x1="807.0" y1="388.5" x2="810.5" y2="388.5"/><line x1="805.0" y1="374.5" x2="810.5" y2="374.5"/><line x1="807.0" y1="361.5" x2="810.5" y2="361.5"/><line x1="805.0" y1="348.5" x2="810.5" y2="348.5"/><line x1="807.0" y1="335.5" x2="810.5" y2="335.5"/><line x1="805.0" y1="321.5" x2="810.5" y2="321.5"/><line x1="807.0" y1="308.5" x2="810.5" y2="308.5"/><line x1="805.0" y1="295.5" x2="810.5" y2="295.5"/><line x1="807.0" y1="282.5" x2="810.5" y2="282.5"/><line x1="805.0" y1="268.5" x2="810.5" y2="268.5"/><line x1="807.0" y1="255.5" x2="810.5" y2="255.5"/><line x1="805.0" y1="242.5" x2="810.5" y2="242.5"/><line x1="807.0" y1="229.5" x2="810.5" y2="229.5"/><line x1="805.0" y1="215.5" x2="810.5" y2="215.5"/><line x1="807.0" y1="202.5" x2="810.5" y2="202.5"/><line x1="805.0" y1="189.5" x2="810.5" y2="189.5"/><line x1="807.0" y1="176.5" x2="810.5" y2="176.5"/><line x1="805.0" y1="162.5" x2="810.5" y2="162.5"/><line x1="807.0" y1="149.5" x2="810.5" y2="149.5"/><line x1="805.0" y1="136.5" x2="810.5" y2="136.5"/><line x1="807.0" y1="123.5" x2="810.5" y2="123.5"/><line x1="805.0" y1="109.5" x2="810.5" y2="109.5"/><line x1="807.0" y1="96.5" x2="810.5" y2="96.5"/><line x1="805.0" y1="83.5" x2="810.5" y2="83.5"/><line x1="807.0" y1="70.5" x2="810.5" y2="70.5"/><line x1="805.0" y1="56.5" x2="810.5" y2="56.5"/><line x1="807.0" y1="43.5" x2="810.5" y2="43.5"/></g>
<text x="153.9" y="33.3" font-size="11" text-anchor="end" font-family="Liberation Sans, sans-serif" fill="#ffffff">15</text><text x="153.9" y="92.2" font-size="11" text-anchor="end" font-family="Liberation Sans, sans-serif" fill="#ffffff">10</text><text x="153.9" y="151.1" font-size="11" text-anchor="end" font-family="Liberation Sans, sans-serif" fill="#ffffff">5</text><text x="153.9" y="210.0" font-size="11" text-anchor="end" font-family="Liberation Sans, sans-serif" fill="#ffffff">0</text><text x="153.9" y="268.9" font-size="11" text-anchor="end" font-family="Liberation Sans, sans-serif" fill="#ffffff">-5</text><text x="153.9" y="327.7" font-size="11" text-anchor="end" font-family="Liberation Sans, sans-serif" fill="#ffffff">-10</text><text x="153.9" y="386.6" font-size="11" text-anchor="end" font-family="Liberation Sans, sans-serif" fill="#ffffff">-15</text><text x="153.9" y="445.5" font-size="11" text-anchor="end" font-family="Liberation Sans, sans-serif" fill="#ffffff">-20</text><text x="153.9" y="504.4" font-size="11" text-anchor="end" font-family="Liberation Sans, sans-serif" fill="#ffffff">-25</text><text x="153.9" y="563.3" font-size="11" text-anchor="end" font-family="Liberation Sans, sans-serif" fill="#ffffff">-30</text><text x="817.3" y="563.0" font-size="11" font-family="Liberation Sans, sans-serif" fill="#ffffff">0</text><text x="817.3" y="430.5" font-size="11" font-family="Liberation Sans, sans-serif" fill="#ffffff">10</text><text x="817.3" y="298.0" font-size="11" font-family="Liberation Sans, sans-serif" fill="#ffffff">20</text><text x="817.3" y="165.5" font-size="11" font-family="Liberation Sans, sans-serif" fill="#ffffff">30</text><text x="817.3" y="33.0" font-size="11" font-family="Liberation Sans, sans-serif" fill="#ffffff">40</text><text x="162.5" y="577" font-size="11" text-anchor="middle" font-family="Liberation Sans, sans-serif" fill="#ffffff">14Jan 00z</text><text x="243.4" y="577" font-size="11" text-anchor="middle" font-family="Liberation Sans, sans-serif" fill="#ffffff">16Jan 00z</text><text x="324.2" y="577" font-size="11" text-anchor="middle" font-family="Liberation Sans, sans-serif" fill="#ffffff">18Jan 00z</text><text x="405.1" y="577" font-size="11" text-anchor="middle" font-family="Liberation Sans, sans-serif" fill="#ffffff">20Jan 00z</text><text x="486.0" y="577" font-size="11" text-anchor="middle" font-family="Liberation Sans, sans-serif" fill="#ffffff">22Jan 00z</text><text x="566.9" y="577" font-size="11" text-anchor="middle" font-family="Liberation Sans, sans-serif" fill="#ffffff">24Jan 00z</text><text x="647.8" y="577" font-size="11" text-anchor="middle" font-family="Liberation Sans, sans-serif" fill="#ffffff">26Jan 00z</text><text x="728.6" y="577" font-size="11" text-anchor="middle" font-family="Liberation Sans, sans-serif" fill="#ffffff">28Jan 00z</text><text x="809.5" y="577" font-size="11" text-anchor="middle" font-family="Liberation Sans, sans-serif" fill="#ffffff">30Jan 00z</text><text xml:space="preserve" style="white-space:pre" x="95" y="16.7" font-size="16.4" font-weight="bold" textLength="680" lengthAdjust="spacingAndGlyphs" font-family="Liberation Sans, sans-serif" fill="#ffffff">Düsseldorf 40468 (DE)  850 hPa Temp. &amp; Niederschlag | Sat, 14Jan2023 00Z</text><text x="120" y="603.8" font-size="16.6" textLength="203" lengthAdjust="spacingAndGlyphs" font-family="Liberation Sans, sans-serif" fill="#ffffff">GFS Ensemble, 51.5N, 7E</text><text x="650" y="603.8" font-size="16.6" textLength="144" lengthAdjust="spacingAndGlyphs" font-family="Liberation Sans, sans-serif" fill="#ffffff">Wetterzentrale.de</text><text x="457.5" y="592.8" font-size="11" textLength="57.5" lengthAdjust="spacingAndGlyphs" font-family="Liberation Sans, sans-serif" fill="#ffffff">Date (UTC)</text><text transform="translate(134.6,296) rotate(-90)" x="0" y="0" font-size="11" text-anchor="middle" textLength="102" lengthAdjust="spacingAndGlyphs" font-family="Liberation Sans, sans-serif" fill="#ffffff">850 hPa Temp. (°C)</text><text transform="translate(843.3,296) rotate(-90)" x="0" y="0" font-size="11" text-anchor="middle" textLength="100.5" lengthAdjust="spacingAndGlyphs" font-family="Liberation Sans, sans-serif" fill="#ffffff">Niederschlag (mm)</text><line x1="-3.0" y1="40.9" x2="8.0" y2="40.9" stroke="#1a1ad0" stroke-width="2.2"/><text x="8.7" y="43.2" font-size="11" font-family="Liberation Sans, sans-serif" fill="#ffffff">P1</text><line x1="53.0" y1="40.9" x2="64.0" y2="40.9" stroke="#1a50d0" stroke-width="2.2"/><text x="64.6" y="43.2" font-size="11" font-family="Liberation Sans, sans-serif" fill="#ffffff">P2</text><line x1="-3.0" y1="55.9" x2="8.0" y2="55.9" stroke="#1a78d8" stroke-width="2.2"/><text x="8.7" y="58.2" font-size="11" font-family="Liberation Sans, sans-serif" fill="#ffffff">P3</text><line x1="53.0" y1="55.9" x2="64.0" y2="55.9" stroke="#1aa0d8" stroke-width="2.2"/><text x="64.6" y="58.2" font-size="11" font-family="Liberation Sans, sans-serif" fill="#ffffff">P4</text><line x1="-3.0" y1="70.9" x2="8.0" y2="70.9" stroke="#1ab8c8" stroke-width="2.2"/><text x="8.7" y="73.2" font-size="11" font-family="Liberation Sans, sans-serif" fill="#ffffff">P5</text><line x1="53.0" y1="70.9" x2="64.0" y2="70.9" stroke="#1ab894" stroke-width="2.2"/><text x="64.6" y="73.2" font-size="11" font-family="Liberation Sans, sans-serif" fill="#ffffff">P6</text><line x1="-3.0" y1="85.9" x2="8.0" y2="85.9" stroke="#1ab870" stroke-width="2.2"/><text x="8.7" y="88.2" font-size="11" font-family="Liberation Sans, sans-serif" fill="#ffffff">P7</text><line x1="53.0" y1="85.9" x2="64.0" y2="85.9" stroke="#1ac048" stroke-width="2.2"/><text x="64.6" y="88.2" font-size="11" font-family="Liberation Sans, sans-serif" fill="#ffffff">P8</text><line x1="-3.0" y1="100.9" x2="8.0" y2="100.9" stroke="#14c814" stroke-width="2.2"/><text x="8.7" y="103.2" font-size="11" font-family="Liberation Sans, sans-serif" fill="#ffffff">P9</text><line x1="53.0" y1="100.9" x2="64.0" y2="100.9" stroke="#10cc10" stroke-width="2.2"/><text x="64.6" y="103.2" font-size="11" font-family="Liberation Sans, sans-serif" fill="#ffffff">P10</text><line x1="-3.0" y1="115.9" x2="8.0" y2="115.9" stroke="#d0c414" stroke-width="2.2"/><text x="8.7" y="118.2" font-size="11" font-family="Liberation Sans, sans-serif" fill="#ffffff">P11</text><line x1="53.0" y1="115.9" x2="64.0" y2="115.9" stroke="#d0b414" stroke-width="2.2"/><text x="64.6" y="118.2" font-size="11" font-family="Liberation Sans, sans-serif" fill="#ffffff">P12</text><line x1="-3.0" y1="130.9" x2="8.0" y2="130.9" stroke="#d0a014" stroke-width="2.2"/><text x="8.7" y="133.2" font-size="11" font-family="Liberation Sans, sans-serif" fill="#ffffff">P13</text><line x1="53.0" y1="130.9" x2="64.0" y2="130.9" stroke="#d09014" stroke-width="2.2"/><text x="64.6" y="133.2" font-size="11" font-family="Liberation Sans, sans-serif" fill="#ffffff">P14</text><line x1="-3.0" y1="145.9" x2="8.0" y2="145.9" stroke="#d08014" stroke-width="2.2"/><text x="8.7" y="148.2" font-size="11" font-family="Liberation Sans, sans-serif" fill="#ffffff">P15</text><line x1="53.0" y1="145.9" x2="64.0" y2="145.9" stroke="#d07014" stroke-width="2.2"/><text x="64.6" y="148.2" font-size="11" font-family="Liberation Sans, sans-serif" fill="#ffffff">P16</text><line x1="-3.0" y1="160.9" x2="8.0" y2="160.9" stroke="#d06014" stroke-width="2.2"/><text x="8.7" y="163.2" font-size="11" font-family="Liberation Sans, sans-serif" fill="#ffffff">P17</text><line x1="53.0" y1="160.9" x2="64.0" y2="160.9" stroke="#c85020" stroke-width="2.2"/><text x="64.6" y="163.2" font-size="11" font-family="Liberation Sans, sans-serif" fill="#ffffff">P18</text><line x1="-3.0" y1="175.9" x2="8.0" y2="175.9" stroke="#c04020" stroke-width="2.2"/><text x="8.7" y="178.2" font-size="11" font-family="Liberation Sans, sans-serif" fill="#ffffff">P19</text><line x1="53.0" y1="175.9" x2="64.0" y2="175.9" stroke="#b02020" stroke-width="2.2"/><text x="64.6" y="178.2" font-size="11" font-family="Liberation Sans, sans-serif" fill="#ffffff">P20</text><line x1="-3.0" y1="190.9" x2="8.0" y2="190.9" stroke="#1a50d0" stroke-width="2.2"/><text x="8.7" y="193.2" font-size="11" font-family="Liberation Sans, sans-serif" fill="#ffffff">P21</text><line x1="53.0" y1="190.9" x2="64.0" y2="190.9" stroke="#1a80d8" stroke-width="2.2"/><text x="64.6" y="193.2" font-size="11" font-family="Liberation Sans, sans-serif" fill="#ffffff">P22</text><line x1="-3.0" y1="205.9" x2="8.0" y2="205.9" stroke="#1aa8d8" stroke-width="2.2"/><text x="8.7" y="208.2" font-size="11" font-family="Liberation Sans, sans-serif" fill="#ffffff">P23</text><line x1="53.0" y1="205.9" x2="64.0" y2="205.9" stroke="#1ab8c8" stroke-width="2.2"/><text x="64.6" y="208.2" font-size="11" font-family="Liberation Sans, sans-serif" fill="#ffffff">P24</text><line x1="-3.0" y1="220.9" x2="8.0" y2="220.9" stroke="#1ab894" stroke-width="2.2"/><text x="8.7" y="223.2" font-size="11" font-family="Liberation Sans, sans-serif" fill="#ffffff">P25</text><line x1="53.0" y1="220.9" x2="64.0" y2="220.9" stroke="#1ac070" stroke-width="2.2"/><text x="64.6" y="223.2" font-size="11" font-family="Liberation Sans, sans-serif" fill="#ffffff">P26</text><line x1="-3.0" y1="235.9" x2="8.0" y2="235.9" stroke="#1ac048" stroke-width="2.2"/><text x="8.7" y="238.2" font-size="11" font-family="Liberation Sans, sans-serif" fill="#ffffff">P27</text><line x1="53.0" y1="235.9" x2="64.0" y2="235.9" stroke="#14c820" stroke-width="2.2"/><text x="64.6" y="238.2" font-size="11" font-family="Liberation Sans, sans-serif" fill="#ffffff">P28</text><line x1="-3.0" y1="250.9" x2="8.0" y2="250.9" stroke="#10cc10" stroke-width="2.2"/><text x="8.7" y="253.2" font-size="11" font-family="Liberation Sans, sans-serif" fill="#ffffff">P29</text><line x1="53.0" y1="250.9" x2="64.0" y2="250.9" stroke="#d0c414" stroke-width="2.2"/><text x="64.6" y="253.2" font-size="11" font-family="Liberation Sans, sans-serif" fill="#ffffff">P30</text><line x1="-3" y1="266.5" x2="8" y2="266.5" stroke="#0a0af5" stroke-width="2.3"/><text x="8.7" y="268.8" font-size="11" textLength="36.5" lengthAdjust="spacingAndGlyphs" font-family="Liberation Sans, sans-serif" fill="#ffffff">Control</text><line x1="53" y1="266.5" x2="64" y2="266.5" stroke="#ffffff" stroke-width="2.7"/><text x="64.6" y="268.8" font-size="11" textLength="54.5" lengthAdjust="spacingAndGlyphs" font-family="Liberation Sans, sans-serif" fill="#ffffff">Ens. mean</text><line x1="53" y1="292.8" x2="64" y2="292.8" stroke="#e84646" stroke-width="2.3"/><text x="64.6" y="296.7" font-size="11" textLength="56.8" lengthAdjust="spacingAndGlyphs" font-family="Liberation Sans, sans-serif" fill="#ffffff">1981-2010</text><text x="64.6" y="306.8" font-size="11" textLength="28.6" lengthAdjust="spacingAndGlyphs" font-family="Liberation Sans, sans-serif" fill="#ffffff">mean</text><line x1="-3" y1="306" x2="8" y2="306" stroke="#12dd12" stroke-width="2.3"/><text x="8.7" y="308.5" font-size="11" textLength="24.2" lengthAdjust="spacingAndGlyphs" font-family="Liberation Sans, sans-serif" fill="#ffffff">Oper</text>
</svg></body></html>
